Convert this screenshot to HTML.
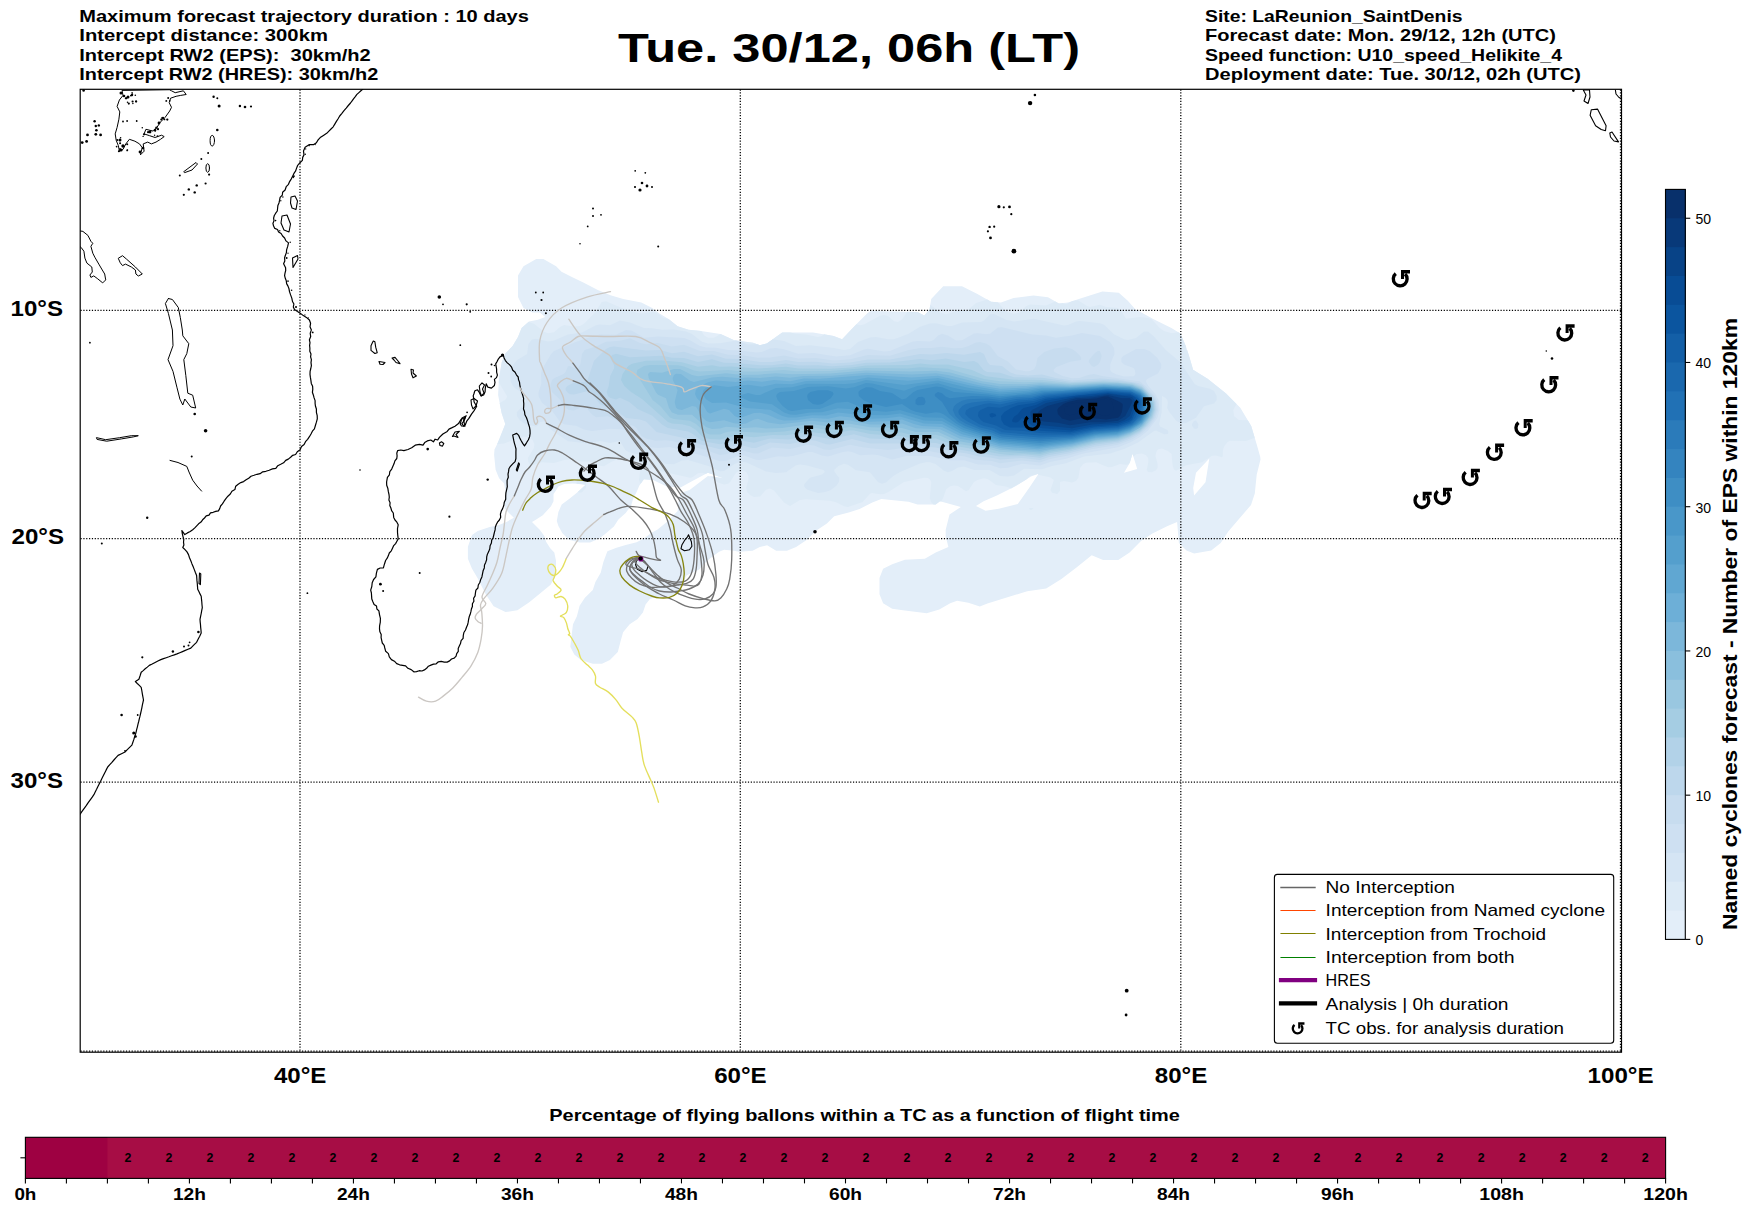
<!DOCTYPE html><html><head><meta charset="utf-8"><style>html,body{margin:0;padding:0;background:#fff;overflow:hidden;}svg{display:block;}text{font-family:"Liberation Sans",sans-serif;}</style></head><body>
<svg width="1752" height="1213" viewBox="0 0 1752 1213">
<rect x="0" y="0" width="1752" height="1213" fill="#fff"/>
<defs><g id="tcs"><path d="M4.88 -4.88A6.9 6.9 0 1 1 -4.44 -5.28" fill="none" stroke="#000" stroke-width="3.35"/><path d="M0.8 -8.9H9.8V-5.4H3.8V0H0.8Z" fill="#000"/></g><clipPath id="mapclip"><rect x="80.2" y="89.3" width="1541.2" height="962.9"/></clipPath></defs>
<path d="M518.0 297.1 L518.0 275.4 L523.5 266.3 L536.2 259.1 L543.4 259.1 L556.1 266.3 L561.5 271.8 L572.4 277.2 L583.3 282.6 L597.8 289.9 L610.5 295.3 L623.2 299.0 L641.3 302.6 L652.2 308.0 L659.5 313.5 L668.5 318.9 L677.6 326.2 L688.5 329.8 L701.0 331.0 L720.5 334.0 L734.2 340.2 L753.1 342.8 L759.9 345.3 L766.8 343.6 L782.2 332.5 L813.0 332.5 L833.6 335.9 L842.1 339.3 L854.1 326.5 L867.8 312.8 L871.2 311.1 L917.5 312.0 L924.3 315.4 L929.5 309.4 L931.2 299.1 L943.2 286.3 L962.0 286.3 L977.4 294.0 L991.1 301.7 L1000.9 302.6 L1013.6 298.1 L1033.5 295.4 L1048.0 297.2 L1058.9 303.6 L1068.0 302.6 L1084.3 297.2 L1102.4 291.4 L1118.8 292.7 L1127.8 300.8 L1135.1 309.0 L1153.2 319.0 L1171.4 328.0 L1180.4 333.5 L1185.9 346.2 L1189.5 357.0 L1193.1 369.7 L1207.6 378.8 L1225.8 393.3 L1240.3 407.8 L1251.2 426.0 L1256.6 444.1 L1260.2 456.8 L1260.5 459.5 L1256.7 474.7 L1254.8 493.6 L1251.0 505.0 L1239.6 518.3 L1228.3 531.5 L1220.7 542.9 L1211.2 550.5 L1194.1 553.4 L1186.5 550.5 L1178.9 542.9 L1177.1 522.1 L1167.6 525.9 L1152.4 533.4 L1141.0 541.0 L1129.6 552.4 L1118.3 560.0 L1103.1 560.0 L1091.7 555.3 L1076.5 567.6 L1061.4 579.0 L1046.2 588.4 L1027.2 591.3 L1008.3 597.0 L987.4 603.6 L979.8 606.5 L968.4 602.7 L957.1 600.8 L950.2 603.2 L939.3 609.6 L926.7 613.2 L904.9 610.5 L892.2 608.7 L883.1 603.2 L879.5 594.2 L879.5 577.9 L883.1 568.8 L892.2 564.3 L904.9 559.7 L924.8 558.8 L935.7 552.5 L948.4 547.0 L945.7 536.2 L945.7 529.7 L949.5 514.5 L960.9 506.9 L940.0 501.2 L935.7 504.4 L917.6 504.4 L908.5 501.7 L881.3 499.0 L872.3 502.6 L859.6 509.0 L848.7 512.6 L834.2 516.2 L826.9 523.5 L816.0 530.7 L807.0 539.8 L796.1 547.0 L787.0 550.7 L776.2 550.7 L767.1 545.2 L759.8 547.0 L752.6 550.7 L738.9 551.7 L734.0 550.7 L724.1 549.7 L719.1 551.7 L711.2 557.6 L704.3 563.5 L699.3 569.5 L692.4 572.4 L686.5 575.4 L683.5 581.3 L679.6 589.2 L673.6 595.2 L664.7 597.2 L654.8 597.2 L649.9 599.1 L645.6 604.4 L642.9 612.4 L637.6 619.0 L629.7 624.2 L623.1 632.2 L620.5 641.4 L617.8 651.9 L609.9 659.9 L602.0 663.8 L592.8 663.8 L580.9 659.9 L574.3 654.6 L570.3 646.7 L571.7 634.8 L573.0 624.2 L576.9 616.3 L579.6 605.8 L584.9 597.8 L592.8 589.9 L595.4 582.0 L600.7 572.8 L603.3 562.2 L607.4 551.3 L616.5 547.7 L625.7 544.9 L636.6 542.2 L643.9 538.5 L651.2 533.1 L657.6 529.4 L666.8 522.1 L677.7 511.1 L678.6 501.1 L680.5 492.9 L689.6 490.1 L707.9 476.0 L723.4 478.3 L707.9 472.8 L694.2 480.1 L680.5 487.4 L666.8 486.5 L653.1 480.1 L643.9 479.2 L639.4 485.6 L636.6 492.0 L633.0 499.3 L631.1 505.7 L625.7 513.0 L618.4 519.4 L613.9 526.6 L606.0 533.2 L599.4 538.5 L590.1 542.4 L579.6 542.4 L569.0 539.8 L562.4 533.2 L558.4 526.1 L556.8 521.1 L558.4 512.0 L561.7 504.6 L569.1 498.9 L576.6 493.1 L585.6 484.8 L580.7 484.0 L572.4 483.6 L564.2 484.0 L558.4 486.5 L556.0 490.6 L553.5 493.9 L553.5 501.3 L551.0 506.3 L542.8 515.3 L536.2 519.5 L532.0 521.9 L539.5 529.4 L544.4 536.0 L546.1 541.7 L550.2 548.3 L554.3 552.4 L556.0 560.7 L555.8 575.4 L550.6 584.7 L539.1 594.3 L529.3 602.2 L517.4 610.2 L505.5 612.1 L493.6 606.2 L485.7 594.3 L477.8 578.5 L471.9 568.6 L467.9 558.7 L467.9 546.8 L472.0 535.0 L477.8 531.0 L489.7 527.1 L498.2 525.2 L506.5 521.9 L513.9 517.8 L509.0 512.9 L504.8 508.7 L505.3 490.6 L504.0 483.2 L499.1 478.2 L495.6 469.7 L494.1 454.8 L494.5 449.5 L499.9 438.6 L505.3 424.1 L501.7 413.2 L498.1 395.1 L499.0 376.9 L501.7 362.4 L505.3 353.4 L512.6 346.1 L518.0 337.0 L521.6 328.0 L528.9 321.6 L538.0 319.8 L545.2 317.1 L539.8 312.6 L532.5 312.6 L523.5 308.0 Z M976.0 505.9 L985.5 510.7 L998.8 508.8 L1017.8 504.0 L1029.1 487.9 L1038.6 473.7 L1031.0 476.6 L1015.9 486.0 L996.9 495.5 L983.6 501.2 Z M1132.5 453.8 L1137.2 469.0 L1124.0 472.8 L1129.6 463.3 Z M1209.3 458.5 L1205.5 482.2 L1194.1 495.5 L1193.2 487.9 L1196.0 472.8 Z" fill="#e3eef9" fill-rule="evenodd"/>
<path d="M987.4 299.6L976.0 303.1L968.0 309.9L956.0 311.2L946.0 314.2L940.0 312.4L930.3 304.8L929.5 309.4L924.3 315.4L917.5 312.0L907.3 311.8L902.0 319.6L898.0 321.9L894.0 321.2L888.0 315.9L884.0 315.1L880.0 315.7L864.0 324.6L860.0 325.3L856.4 324.2L842.1 339.3L833.6 335.9L824.1 334.3L822.0 336.0L818.0 337.0L806.0 334.4L796.0 333.8L790.2 332.5L782.2 332.5L766.8 343.6L759.9 345.3L753.1 342.8L734.2 340.2L720.6 334.1L714.0 337.7L708.0 337.8L704.0 335.3L701.4 331.1L688.5 329.8L677.6 326.2L668.7 319.1L663.5 318.0L656.0 312.6L652.0 311.9L642.0 313.4L638.0 313.1L624.0 309.0L606.0 301.3L601.7 302.0L595.5 312.0L584.0 323.7L580.0 326.0L574.0 326.6L564.0 325.0L560.0 327.0L554.0 332.2L548.0 333.2L544.0 331.7L534.0 323.7L528.5 322.0L521.6 328.0L518.0 337.0L512.6 346.1L505.3 353.4L501.7 362.4L498.7 382.2L507.0 396.0L506.7 398.0L505.1 400.0L499.6 402.9L501.7 413.2L505.3 424.1L497.1 444.2L504.0 443.4L524.0 436.5L530.0 437.7L532.6 440.0L534.4 444.0L533.9 448.0L527.9 458.0L528.3 462.0L530.0 464.4L532.0 465.2L542.0 462.3L554.0 463.0L564.3 460.0L572.0 459.1L580.0 461.4L590.0 461.4L600.0 465.7L604.0 466.3L612.0 461.4L616.0 460.0L626.0 459.6L632.0 460.6L638.0 464.0L640.6 468.0L639.0 480.0L640.6 483.9L643.9 479.2L651.8 480.0L649.5 470.0L652.0 468.1L662.0 471.5L690.0 477.8L692.0 477.6L698.0 473.2L702.0 472.8L706.0 473.8L707.9 472.8L723.4 478.3L710.0 476.3L718.0 482.4L724.0 484.5L728.0 483.7L730.0 482.2L736.0 472.7L740.0 470.2L742.0 470.1L746.2 472.0L748.4 476.0L748.4 480.0L746.1 488.0L747.2 492.0L750.0 495.1L754.0 497.1L760.0 496.4L766.0 489.8L770.0 488.4L774.0 490.4L784.0 502.6L790.0 505.9L800.0 500.0L806.0 499.2L830.0 500.8L836.0 502.3L844.0 506.2L848.0 507.0L862.6 502.0L870.0 493.7L872.0 492.9L880.0 494.2L884.0 494.0L888.0 492.3L904.0 482.1L924.0 477.7L928.0 478.1L930.0 479.5L931.3 482.0L929.8 498.0L931.0 502.0L933.6 504.4L935.7 504.4L940.0 501.2L941.1 501.5L943.2 498.0L946.0 489.6L950.0 486.2L954.0 485.4L958.0 486.0L966.0 491.3L968.7 490.0L974.0 482.0L978.0 479.7L984.0 478.3L988.0 479.3L996.0 485.0L1006.0 486.5L1011.1 488.4L1026.3 479.5L1030.0 475.9L1038.6 473.7L1037.9 474.8L1050.0 477.3L1053.9 480.0L1050.5 490.0L1052.0 492.7L1057.2 494.0L1060.0 490.7L1060.0 482.0L1064.0 481.1L1072.0 482.4L1076.0 481.1L1078.3 478.0L1080.1 468.0L1083.3 464.0L1086.0 462.7L1096.0 462.3L1108.0 467.3L1112.0 466.9L1120.0 463.9L1126.0 464.8L1128.0 464.4L1129.8 462.7L1132.5 453.8L1133.4 456.6L1136.6 454.0L1142.0 453.5L1146.0 455.3L1148.2 458.0L1148.4 462.0L1146.7 470.0L1148.0 472.1L1152.0 472.2L1156.0 470.2L1157.6 468.0L1157.6 464.0L1155.5 456.0L1156.3 452.0L1158.0 449.2L1162.0 448.5L1168.0 451.0L1171.5 454.0L1172.7 466.0L1174.0 469.4L1176.0 470.7L1186.0 465.2L1202.0 462.3L1212.0 455.8L1216.0 455.4L1222.0 457.2L1222.8 456.0L1222.9 450.0L1224.4 446.0L1227.6 442.0L1230.0 440.8L1246.0 440.9L1254.7 437.8L1251.2 426.0L1247.8 420.3L1238.7 420.0L1234.0 416.0L1233.3 410.0L1236.5 404.0L1225.8 393.3L1207.6 378.8L1193.1 369.7L1187.2 350.2L1186.0 349.9L1185.9 346.2L1180.4 333.5L1178.2 332.2L1172.0 333.3L1164.0 331.1L1160.0 328.3L1152.3 320.0L1148.0 318.0L1140.0 316.9L1126.0 318.8L1120.6 310.0L1117.8 308.0L1106.0 306.9L1100.0 304.7L1090.0 307.0L1087.0 306.0L1078.0 300.2L1072.6 301.1L1066.0 304.2L1062.4 303.2L1058.9 303.6L1055.2 301.4L1046.0 305.4L1030.0 304.5L1026.0 306.3L1020.0 312.2L1014.0 313.7L1008.0 312.2L1004.4 310.0L997.8 302.3L991.1 301.7ZM577.7 472.0L576.5 483.8L585.6 484.8L577.8 492.0L580.0 492.8L582.0 492.2L585.9 488.0L586.4 484.0L584.0 475.9L580.0 470.9ZM1033.6 508.0L1029.1 508.0L1030.0 509.9L1032.0 509.8Z" fill="#dceaf6" fill-rule="evenodd"/>
<path d="M990.0 314.3L984.0 320.5L981.0 322.0L962.0 322.6L952.0 326.1L947.3 326.0L936.0 323.3L930.0 323.4L920.0 326.7L908.2 334.0L894.0 339.3L888.0 339.3L876.0 336.9L870.0 337.5L858.0 342.1L850.0 348.9L844.0 350.1L834.0 348.0L810.0 345.3L796.0 346.0L784.0 340.9L774.0 339.4L772.6 339.4L766.8 343.6L759.9 345.3L757.2 344.3L748.0 344.5L736.0 340.5L720.0 343.3L708.0 343.6L702.0 341.8L692.0 334.1L686.0 331.5L674.0 329.4L662.0 329.8L652.0 328.3L644.0 328.1L630.0 322.6L620.0 320.6L610.0 325.2L600.0 324.5L596.0 325.3L582.0 332.5L568.0 334.5L554.0 340.6L548.0 341.4L536.0 338.7L532.0 339.6L528.4 344.0L527.1 354.0L517.1 360.0L512.3 366.0L510.3 372.0L510.2 378.0L510.9 382.0L513.0 386.0L516.0 388.9L524.0 393.6L526.3 398.0L525.9 402.0L524.7 404.0L516.9 412.0L517.0 416.0L520.0 420.6L526.0 424.4L536.0 426.6L538.0 425.3L540.0 421.9L544.0 421.5L551.3 430.0L568.0 441.3L588.0 443.4L600.0 441.1L610.0 442.9L620.0 441.1L625.3 450.0L628.4 452.0L636.0 454.0L652.0 455.8L666.0 464.0L674.0 464.2L682.0 460.5L688.0 460.0L710.0 466.4L720.0 471.3L724.0 471.0L734.7 464.0L740.0 461.7L746.0 462.3L766.0 471.5L776.0 473.1L786.0 472.3L796.0 465.3L800.0 464.6L806.0 465.3L823.6 470.0L825.0 472.0L822.0 474.5L810.0 477.8L804.4 484.0L804.1 486.0L805.2 488.0L808.1 490.0L818.0 493.0L824.0 492.3L830.0 490.5L836.2 486.0L838.9 482.0L839.3 478.0L834.6 472.0L834.1 470.0L838.4 466.0L844.0 463.8L848.0 464.8L856.0 470.2L870.0 472.2L877.9 482.0L882.0 483.8L886.0 482.4L893.2 476.0L900.0 471.9L920.0 463.4L926.0 462.3L930.0 462.2L935.6 464.0L944.0 470.7L948.0 472.2L952.0 471.1L958.0 467.4L964.0 466.4L974.0 470.0L989.6 470.0L1000.0 476.0L1008.0 476.6L1014.0 475.5L1024.0 468.8L1042.0 469.2L1052.0 466.0L1066.0 463.2L1084.0 456.5L1110.0 453.5L1124.0 448.9L1138.0 442.6L1154.0 431.0L1156.0 430.5L1164.0 434.3L1167.8 434.0L1168.5 432.0L1167.5 430.0L1160.0 426.5L1159.1 424.0L1161.7 412.0L1162.0 396.1L1165.8 398.0L1167.3 400.0L1167.9 402.0L1167.2 408.0L1169.3 412.0L1176.0 420.4L1178.0 422.1L1182.0 423.3L1186.0 422.9L1196.0 417.8L1204.0 406.2L1214.0 403.5L1216.7 400.0L1216.7 396.0L1214.0 391.1L1210.0 388.7L1198.0 385.9L1194.6 384.0L1180.1 362.0L1165.8 350.0L1154.0 336.4L1148.0 331.6L1144.0 331.6L1136.0 338.0L1128.0 340.0L1124.0 339.2L1114.0 334.3L1104.0 324.7L1100.0 323.3L1080.0 320.9L1076.0 321.6L1068.0 325.1L1064.0 325.5L1034.0 318.7L1014.0 321.5L1006.0 319.8L994.0 314.1ZM1192.0 424.0L1192.2 426.0L1194.0 428.5L1196.0 429.1L1198.0 428.0L1198.3 424.0L1196.0 420.5L1194.0 420.9Z" fill="#d5e5f4" fill-rule="evenodd"/>
<path d="M998.0 327.6L990.0 333.7L986.0 334.3L978.0 333.2L974.0 333.6L962.0 340.2L956.0 340.4L948.0 335.4L942.0 333.7L938.0 335.4L933.6 340.0L930.0 341.6L918.0 340.9L912.0 341.8L890.0 351.1L884.0 351.4L868.0 348.8L864.0 349.6L850.0 355.3L836.0 356.4L814.0 353.0L798.0 353.8L784.0 349.2L776.0 347.9L770.0 348.6L761.9 352.0L756.0 352.6L740.0 350.4L728.0 349.9L716.0 347.8L706.0 347.4L700.0 345.9L690.0 340.3L684.0 338.0L658.0 336.5L644.0 337.8L632.0 330.8L626.0 329.9L616.0 334.8L600.0 334.6L594.0 335.8L575.7 342.0L554.0 350.9L551.1 354.0L541.7 370.0L541.0 374.0L541.3 384.0L538.6 392.0L538.5 396.0L542.0 402.8L552.0 410.7L560.0 421.8L564.0 424.3L576.0 425.7L584.0 429.5L592.0 430.9L610.0 428.8L624.0 429.5L628.8 432.0L634.0 443.3L638.0 446.2L658.0 448.0L670.0 447.0L702.0 455.5L720.0 461.3L726.0 460.8L740.0 455.2L744.0 455.6L756.0 459.8L760.0 460.1L778.0 456.3L786.0 456.7L794.0 455.8L808.0 451.9L812.3 452.0L822.0 455.5L828.0 456.5L842.0 452.2L848.0 451.3L852.0 451.9L860.0 455.3L872.0 454.5L878.0 455.1L892.0 459.6L906.0 456.0L930.0 455.9L950.0 460.3L964.0 460.2L978.0 464.4L990.0 464.7L1000.0 468.3L1008.0 467.7L1022.0 463.7L1040.0 465.6L1050.1 462.0L1066.0 458.8L1082.0 453.7L1118.0 447.2L1130.0 442.6L1140.0 437.0L1148.0 430.6L1157.4 418.0L1159.5 410.0L1158.5 400.0L1155.4 394.0L1148.4 386.0L1146.0 381.7L1146.2 380.0L1148.0 378.5L1158.0 373.5L1161.1 368.0L1161.2 364.0L1157.4 358.0L1150.0 351.3L1144.0 349.1L1136.0 349.1L1123.2 356.0L1121.4 358.0L1121.4 362.0L1124.0 364.5L1133.5 368.0L1134.8 370.0L1135.5 374.0L1134.0 376.2L1124.0 376.5L1115.4 374.0L1111.6 372.0L1110.2 370.0L1110.3 364.0L1114.5 354.0L1114.1 348.0L1110.0 342.0L1100.0 336.1L1082.0 332.9L1072.0 335.6L1056.0 337.7L1046.0 335.6L1032.0 334.4L1002.0 327.2Z" fill="#cee0f2" fill-rule="evenodd"/>
<path d="M1093.9 354.0L1089.0 360.0L1088.7 362.0L1091.7 366.0L1094.0 367.0L1098.0 364.7L1100.0 362.0L1101.7 356.0L1100.0 351.0L1098.0 350.8ZM620.0 340.7L606.0 341.8L596.0 346.5L584.7 350.0L582.0 354.0L580.5 364.0L578.0 368.0L576.0 368.6L570.0 366.0L568.0 366.3L565.5 372.0L563.6 374.0L554.6 378.0L552.0 380.1L550.2 386.0L552.0 392.3L560.0 399.5L566.0 408.0L568.9 410.0L574.0 410.4L582.0 406.9L584.0 406.8L586.5 408.0L592.0 414.5L596.0 417.2L608.0 416.2L622.0 422.8L634.0 425.9L636.5 428.0L641.4 436.0L646.0 438.6L656.0 440.7L666.0 440.2L672.0 441.0L705.9 450.0L720.0 454.9L726.0 454.2L736.0 450.3L740.0 449.8L754.0 453.5L758.0 453.5L772.0 447.6L790.0 449.0L808.0 444.8L814.0 445.4L824.0 449.5L830.0 450.1L850.0 444.7L864.0 447.6L888.0 449.9L902.0 448.3L914.0 450.3L930.0 451.3L952.0 455.3L964.0 456.2L976.0 459.7L992.0 461.1L1000.0 463.2L1022.0 460.5L1040.0 462.5L1050.0 459.1L1068.0 455.6L1090.0 449.6L1118.0 444.8L1132.0 439.4L1142.0 433.3L1149.8 426.0L1155.4 418.0L1158.0 410.3L1157.3 402.0L1154.5 396.0L1146.0 386.6L1140.0 381.5L1102.2 376.0L1094.0 374.0L1088.0 374.9L1079.5 378.0L1072.0 378.3L1062.7 376.0L1054.4 372.0L1053.5 370.0L1056.0 367.2L1070.0 361.8L1081.0 360.0L1081.3 358.0L1080.2 356.0L1076.0 351.8L1072.0 349.0L1066.0 347.3L1054.0 348.4L1044.2 352.0L1037.4 358.0L1035.9 366.0L1034.0 369.3L1030.0 371.0L1026.0 371.3L1016.0 369.5L1008.0 361.6L997.7 356.0L990.2 346.0L986.0 343.5L980.0 342.1L976.0 342.5L968.0 346.3L962.0 348.0L954.0 348.3L942.0 346.7L932.0 348.0L920.0 348.0L908.0 350.3L890.0 355.8L868.0 355.1L850.0 359.3L834.0 360.4L816.0 358.0L798.0 358.4L784.0 355.4L770.0 357.4L758.0 357.7L742.0 355.2L728.0 354.7L714.0 351.1L700.0 350.9L684.0 344.7L672.0 346.4L658.0 343.1L646.0 344.3L640.0 342.9L630.0 338.3Z" fill="#c7dcef" fill-rule="evenodd"/>
<path d="M606.0 348.9L594.0 360.7L587.6 380.0L584.0 381.9L574.0 382.6L567.3 386.0L565.7 388.0L565.6 390.0L568.0 393.1L570.0 394.3L574.0 394.6L588.0 391.1L592.0 393.5L600.0 404.2L616.0 410.4L626.0 417.9L640.0 419.5L646.0 421.4L656.5 432.0L686.0 438.6L700.0 444.3L720.0 449.3L738.0 444.9L742.0 445.2L752.0 448.0L756.0 448.0L770.0 442.5L790.0 444.0L810.0 439.9L816.0 440.8L826.0 444.2L830.0 444.5L852.0 439.1L870.0 443.4L900.0 443.4L914.0 446.0L936.0 447.5L954.0 451.8L966.0 453.2L978.0 456.3L992.0 457.7L1000.0 459.6L1022.0 458.1L1040.0 460.0L1050.0 456.7L1068.0 453.5L1094.0 446.7L1118.0 443.0L1130.0 438.6L1140.0 433.1L1147.9 426.0L1154.0 418.0L1156.6 410.0L1155.8 402.0L1153.0 396.0L1142.0 384.7L1138.0 382.9L1118.0 379.7L1100.0 378.6L1072.0 380.4L1055.6 378.0L1042.0 374.5L1028.0 375.4L1016.0 374.4L1010.0 372.2L1002.0 366.0L990.0 364.9L987.4 362.0L984.0 354.1L980.0 352.1L964.0 354.7L946.0 353.0L932.0 354.4L920.0 354.1L890.0 359.4L868.0 359.4L850.0 362.5L832.0 363.5L816.0 361.8L798.0 362.1L786.0 360.0L772.0 362.0L760.0 361.9L740.0 359.1L726.0 358.8L712.0 354.6L698.0 356.3L684.0 351.7L672.0 353.2L660.0 350.1L646.0 350.6L614.0 346.5L610.0 346.9Z" fill="#bdd7ec" fill-rule="evenodd"/>
<path d="M612.0 354.9L610.3 358.0L614.0 365.1L614.2 368.0L610.2 376.0L608.7 386.0L606.6 392.0L608.0 396.0L610.0 397.7L616.0 399.4L620.0 397.8L629.4 402.0L638.0 409.3L652.0 415.5L662.0 424.5L667.9 428.0L688.0 431.6L692.0 433.6L702.0 441.0L720.0 444.3L738.0 440.0L754.0 442.8L770.0 438.4L788.0 439.6L808.0 435.9L814.0 436.0L830.0 439.1L854.0 434.2L870.0 438.6L900.0 439.5L914.0 442.2L936.0 442.9L956.0 448.9L1000.0 456.6L1024.0 456.1L1040.0 457.8L1048.0 455.2L1068.0 451.8L1096.0 444.6L1118.0 441.5L1130.0 437.1L1140.0 431.7L1146.4 426.0L1152.7 418.0L1155.4 410.0L1154.7 402.0L1151.7 396.0L1142.0 386.2L1134.0 383.1L1118.0 380.9L1104.0 380.3L1072.0 381.9L1042.0 377.8L1014.0 377.2L1000.0 372.8L987.0 372.0L983.5 370.0L978.0 363.0L974.0 361.1L964.0 362.0L946.0 358.5L932.0 360.2L920.0 359.1L890.0 362.5L866.0 362.8L852.0 365.0L832.0 366.2L818.0 365.2L798.0 365.4L786.0 363.5L772.0 365.2L760.0 365.3L736.0 363.0L724.0 362.8L712.0 359.2L698.0 361.9L684.0 358.1L672.0 357.8L662.0 355.7L630.0 357.3L616.0 353.8Z" fill="#b2d2e8" fill-rule="evenodd"/>
<path d="M646.0 360.8L632.0 363.8L628.2 366.0L622.6 374.0L621.0 380.0L624.3 386.0L631.1 392.0L642.0 399.0L668.0 422.0L672.0 423.5L682.0 424.2L690.0 426.3L696.0 429.9L702.0 436.3L706.0 438.3L710.0 439.1L720.0 439.6L736.0 435.4L754.0 437.2L772.0 434.9L786.0 435.3L808.0 431.7L830.0 434.3L850.0 430.4L854.0 430.4L870.0 434.0L902.0 436.2L914.0 438.8L936.0 438.5L956.0 446.0L1000.0 454.1L1010.0 454.9L1024.0 454.3L1040.0 455.8L1050.0 453.1L1070.0 449.8L1096.0 443.1L1118.0 440.2L1130.0 435.9L1140.0 430.5L1145.1 426.0L1152.0 417.2L1154.4 410.0L1153.7 402.0L1148.9 394.0L1142.0 387.3L1132.0 383.5L1104.0 381.5L1070.0 383.0L1042.0 380.0L1012.0 379.6L986.0 376.3L972.0 370.0L948.0 364.4L930.0 364.5L920.0 363.4L908.0 364.9L866.0 365.6L852.0 367.4L830.0 368.7L798.0 368.4L786.0 366.8L758.0 368.5L732.0 366.6L720.0 366.7L712.0 365.2L698.0 366.7L682.0 362.3L662.0 360.4Z" fill="#a5cde3" fill-rule="evenodd"/>
<path d="M644.0 366.0L637.3 370.0L636.5 374.0L652.6 400.0L660.2 406.0L670.0 417.4L674.0 418.9L690.0 420.7L696.0 424.1L706.0 433.3L710.0 434.6L720.0 434.5L726.0 432.2L732.0 431.3L762.0 432.7L784.0 431.4L808.0 427.7L814.0 427.8L828.0 430.1L850.0 426.9L870.0 430.4L902.0 432.5L914.0 435.4L936.0 434.8L940.8 436.0L958.0 443.7L988.0 448.8L1000.0 451.8L1040.0 454.1L1050.0 451.5L1070.0 448.4L1096.0 441.8L1118.0 439.0L1130.0 434.8L1140.0 429.4L1143.8 426.0L1151.6 416.0L1153.4 410.0L1153.2 404.0L1150.9 398.0L1142.0 388.3L1132.0 384.4L1118.0 382.8L1100.0 382.5L1070.0 384.1L1040.0 381.7L1024.0 382.3L1000.0 381.2L984.0 379.0L948.0 368.7L920.0 367.3L908.0 368.4L866.0 368.1L830.0 371.1L796.0 371.2L784.0 369.9L758.0 371.6L742.0 371.4L728.0 370.0L700.0 371.4L694.0 370.6L684.0 366.5L678.0 365.3L650.0 365.1Z" fill="#99c7e0" fill-rule="evenodd"/>
<path d="M674.0 368.9L662.0 372.8L650.0 372.0L648.0 374.0L648.7 378.0L656.0 392.6L658.0 394.7L666.0 398.3L669.0 408.0L672.0 412.4L678.0 414.8L692.0 414.8L706.0 426.9L712.0 429.1L720.0 428.6L726.0 426.8L744.0 427.9L756.0 427.2L766.0 428.5L782.0 427.9L810.0 424.0L828.0 426.2L840.0 423.7L850.0 423.7L870.0 427.3L902.0 428.1L916.0 432.0L938.0 431.8L958.0 440.9L986.0 446.1L1000.0 449.8L1040.0 452.4L1050.0 450.0L1072.0 446.7L1096.0 440.5L1118.0 437.9L1130.0 433.8L1142.8 426.0L1150.5 416.0L1152.4 410.0L1152.2 404.0L1151.0 400.0L1146.9 394.0L1142.0 389.2L1132.0 385.1L1118.0 383.6L1102.0 383.3L1072.0 385.1L1040.0 383.3L1026.0 384.2L1000.0 384.1L982.0 381.2L950.0 372.4L936.0 370.7L910.0 371.6L866.0 370.4L830.0 373.4L792.0 374.2L776.0 373.2L758.0 374.7L740.0 374.7L726.0 373.3L698.0 376.2L692.0 374.9L680.0 369.1Z" fill="#8abfdd" fill-rule="evenodd"/>
<path d="M674.0 375.1L672.7 378.0L672.9 380.0L677.6 390.0L674.7 402.0L676.0 407.5L678.0 409.2L682.0 410.0L692.0 406.0L696.0 406.8L702.9 418.0L706.0 420.7L710.0 422.3L724.0 420.2L734.0 423.3L742.0 424.0L746.0 423.4L754.0 419.6L758.0 418.8L768.0 422.6L780.0 424.3L812.0 420.8L828.0 422.5L842.0 419.7L850.0 420.5L870.0 424.6L890.0 424.5L902.0 423.4L916.0 428.3L940.0 429.3L960.0 438.8L974.0 441.2L1000.0 447.9L1012.0 449.4L1040.0 450.8L1072.0 445.5L1096.0 439.4L1118.0 436.9L1132.0 431.9L1140.0 427.4L1148.2 418.0L1151.4 410.0L1151.3 404.0L1150.1 400.0L1147.6 396.0L1142.0 390.1L1132.0 385.9L1118.0 384.4L1102.0 384.1L1070.0 386.0L1040.0 384.7L1026.0 386.0L1000.0 386.5L982.0 383.6L948.0 374.9L936.0 373.2L912.0 374.6L866.0 372.7L832.0 375.7L804.0 376.0L790.0 377.8L776.0 376.4L760.0 377.9L748.0 377.4L738.0 378.1L722.0 376.7L712.0 377.6L694.0 381.9L690.0 380.8L681.0 374.0L676.0 373.7Z" fill="#7cb7da" fill-rule="evenodd"/>
<path d="M868.0 375.0L820.0 378.8L804.0 378.5L790.0 381.2L774.0 380.0L762.0 381.8L748.0 380.6L736.0 381.9L716.0 380.5L708.0 382.2L700.0 386.0L695.8 390.0L695.0 394.0L696.8 398.0L702.5 404.0L707.2 412.0L710.0 413.5L724.0 408.8L729.0 410.0L734.7 416.0L738.0 417.4L742.0 417.2L754.0 413.0L760.0 412.8L768.0 414.7L778.0 419.3L784.0 420.5L796.0 420.2L812.0 418.0L828.0 418.8L840.0 416.2L850.0 417.3L868.0 421.7L888.0 421.2L902.0 419.6L914.0 424.1L922.0 426.0L942.0 427.0L960.0 436.1L974.0 439.0L1000.0 446.2L1038.0 449.3L1072.0 444.3L1096.0 438.2L1118.0 435.9L1130.0 431.9L1142.0 424.7L1148.4 416.0L1150.4 410.0L1149.9 402.0L1145.1 394.0L1140.0 389.5L1130.0 386.2L1104.0 384.8L1070.0 386.9L1040.0 386.1L1026.0 387.7L1000.0 388.7L980.0 385.4L938.0 375.7L912.0 377.5Z" fill="#6dafd7" fill-rule="evenodd"/>
<path d="M868.0 377.4L854.0 379.9L844.0 380.5L806.0 380.9L792.0 384.2L776.0 383.8L762.0 386.8L748.0 384.8L728.0 387.0L714.0 385.3L705.7 388.0L703.5 390.0L702.3 394.0L706.0 399.3L712.0 403.0L726.0 402.6L746.0 408.1L770.0 409.7L782.3 416.0L788.0 417.5L796.0 417.5L812.0 415.2L826.0 415.4L838.0 412.5L850.0 413.7L868.0 418.8L886.0 418.3L900.0 416.4L924.0 423.4L942.0 424.1L962.0 434.3L988.0 440.7L1000.0 444.5L1038.0 447.7L1072.0 443.2L1096.0 437.2L1118.0 435.0L1130.0 431.0L1142.0 423.6L1147.3 416.0L1149.4 410.0L1149.0 402.0L1144.2 394.0L1140.0 390.3L1130.0 386.9L1104.0 385.5L1070.0 387.7L1040.0 387.4L1028.0 389.1L1000.0 390.7L970.0 385.6L938.0 378.1L908.0 380.7Z" fill="#60a7d2" fill-rule="evenodd"/>
<path d="M866.0 380.0L854.0 383.2L846.0 383.9L806.0 383.8L792.0 387.3L776.0 387.9L760.0 395.0L756.0 395.1L748.0 392.9L737.9 396.0L750.0 401.5L772.0 404.2L784.0 412.4L790.0 414.6L796.0 414.7L810.0 412.5L822.0 412.3L838.0 408.2L850.0 409.1L862.4 414.0L868.0 415.1L886.0 415.2L900.0 413.4L924.0 420.5L942.0 421.1L962.0 431.8L1000.0 442.9L1040.0 446.2L1074.0 441.7L1096.0 436.1L1116.0 434.4L1130.0 430.1L1142.0 422.4L1146.3 416.0L1148.3 410.0L1148.1 402.0L1145.0 396.0L1140.0 391.1L1130.0 387.5L1104.0 386.2L1068.0 388.6L1042.0 388.6L1028.0 390.7L1000.0 392.6L968.0 387.8L938.0 380.6L904.0 384.9Z" fill="#549fcd" fill-rule="evenodd"/>
<path d="M866.0 383.1L854.0 387.3L846.0 388.5L828.0 386.3L808.0 387.0L794.0 391.0L780.0 392.0L777.0 394.0L776.2 396.0L777.6 400.0L782.7 406.0L788.0 409.9L792.0 411.0L806.0 409.0L820.0 409.1L836.0 402.8L848.0 401.7L868.0 410.2L886.0 411.7L900.0 410.0L924.0 417.3L942.0 417.8L962.0 429.4L1000.0 441.3L1040.0 444.7L1074.0 440.6L1096.0 435.1L1116.0 433.4L1130.0 429.2L1139.0 424.0L1142.0 421.2L1146.1 414.0L1147.4 408.0L1146.5 400.0L1142.6 394.0L1140.0 391.9L1130.0 388.2L1102.0 387.0L1066.0 389.6L1042.0 389.9L1028.0 392.3L1000.0 394.4L964.0 389.9L952.0 387.6L938.0 383.3L917.4 386.0L904.0 390.8L872.0 383.4Z" fill="#4997c9" fill-rule="evenodd"/>
<path d="M818.0 390.3L810.4 392.0L807.9 394.0L807.1 396.0L808.0 400.0L812.9 404.0L818.0 404.8L822.1 404.0L831.0 398.0L833.6 394.0L832.7 392.0L828.0 390.2ZM860.3 390.0L858.4 392.0L858.8 396.0L864.0 400.4L870.0 403.0L886.0 407.1L902.0 404.1L911.1 410.0L916.0 411.7L926.0 413.7L936.0 412.3L940.0 412.7L944.0 414.4L956.0 423.6L964.0 427.9L1000.0 439.7L1040.0 443.0L1074.0 439.5L1094.0 434.4L1118.0 432.1L1130.0 428.3L1137.4 424.0L1142.0 419.9L1145.7 412.0L1146.5 406.0L1146.2 402.0L1144.7 398.0L1140.0 392.7L1132.0 389.3L1118.0 387.9L1104.0 387.5L1062.0 390.7L1042.0 391.1L1030.0 393.6L1000.0 396.2L988.0 394.5L954.0 391.9L942.0 387.3L936.0 386.6L917.5 390.0L913.5 392.0L906.0 398.4L902.0 399.6L892.0 393.1L880.0 390.9L872.0 387.6L866.0 387.3Z" fill="#3e8ec4" fill-rule="evenodd"/>
<path d="M915.5 400.0L915.5 404.0L918.0 405.3L924.0 404.9L925.6 402.0L924.5 398.0L922.0 396.8L918.0 397.3ZM1106.0 388.2L1044.0 392.2L1030.0 395.1L1016.0 395.7L1000.0 398.0L988.0 396.4L972.0 395.9L950.0 398.2L946.0 396.7L942.0 393.3L938.0 392.1L934.9 394.0L934.8 396.0L942.1 402.0L949.5 414.0L958.0 422.1L965.2 426.0L975.5 430.0L992.0 434.5L1000.0 438.0L1004.0 438.5L1040.0 441.3L1072.0 438.7L1094.0 433.4L1118.0 431.2L1130.0 427.3L1135.9 424.0L1140.7 420.0L1143.9 414.0L1145.5 404.0L1143.8 398.0L1140.0 393.6L1132.0 390.0Z" fill="#3484bf" fill-rule="evenodd"/>
<path d="M1106.0 388.9L1044.0 393.4L1032.0 396.4L1016.0 397.2L1000.0 399.9L988.0 398.5L968.0 399.3L962.0 400.8L956.3 404.0L954.0 406.3L952.8 410.0L955.4 416.0L959.6 420.0L966.5 424.0L980.0 429.6L992.0 432.5L1002.0 436.5L1040.0 439.5L1072.0 437.5L1094.0 432.3L1118.0 430.2L1132.0 425.5L1139.2 420.0L1142.0 416.1L1143.8 410.0L1144.3 402.0L1142.0 396.5L1139.2 394.0L1130.0 390.3Z" fill="#2b7bba" fill-rule="evenodd"/>
<path d="M1108.0 389.6L1044.0 394.7L1032.0 398.0L1016.0 398.9L1000.0 402.0L988.0 400.7L972.0 402.4L966.0 404.0L962.3 406.0L958.8 410.0L958.4 412.0L958.9 414.0L962.0 418.0L968.5 422.0L980.0 427.4L992.0 430.2L1000.0 434.1L1040.0 437.5L1072.0 436.3L1094.0 431.2L1118.0 429.2L1132.0 424.4L1140.0 417.1L1142.2 412.0L1143.4 404.0L1142.9 400.0L1140.0 395.6L1130.0 391.0Z" fill="#2171b5" fill-rule="evenodd"/>
<path d="M1106.0 390.3L1044.2 396.0L1032.0 399.7L1018.0 400.4L1000.0 404.4L990.0 403.3L984.0 403.9L969.6 408.0L966.0 410.6L965.2 414.0L969.0 418.0L979.0 424.0L984.0 426.1L994.0 428.3L1002.0 432.2L1040.0 435.4L1072.0 435.0L1094.0 430.1L1118.0 428.1L1132.0 423.2L1135.6 420.0L1140.0 413.9L1142.2 406.0L1142.0 400.0L1139.0 396.0L1132.0 392.3Z" fill="#1a68ae" fill-rule="evenodd"/>
<path d="M1108.0 391.1L1046.0 397.2L1034.0 401.1L1018.0 402.4L1000.0 407.7L988.0 406.8L980.5 410.0L978.5 412.0L978.0 416.0L980.8 420.0L983.4 422.0L996.0 425.5L1004.9 430.0L1024.0 430.9L1040.0 433.1L1070.0 433.7L1094.0 428.9L1118.0 427.0L1130.0 423.0L1135.3 418.0L1140.0 408.5L1141.1 404.0L1140.7 400.0L1137.1 396.0L1130.0 392.7Z" fill="#135fa7" fill-rule="evenodd"/>
<path d="M1108.0 391.9L1046.0 398.7L1034.0 403.1L1018.0 405.3L1011.0 408.0L1004.5 412.0L1001.1 416.0L1001.3 420.0L1004.0 424.6L1010.0 427.5L1024.0 427.4L1040.0 430.7L1070.0 432.2L1094.0 427.6L1118.0 425.7L1128.8 422.0L1132.0 420.0L1139.4 404.0L1139.1 400.0L1137.6 398.0L1130.0 393.7ZM990.0 416.7L992.0 417.4L996.2 416.0L995.4 414.0L992.0 413.0L989.5 414.0Z" fill="#0b559f" fill-rule="evenodd"/>
<path d="M1108.0 392.9L1076.0 395.7L1044.0 401.1L1036.0 404.9L1023.7 408.0L1021.0 410.0L1018.0 414.1L1014.0 416.7L1012.0 420.6L1012.6 422.0L1016.0 422.6L1018.0 422.0L1022.0 418.1L1032.0 425.6L1038.0 427.7L1072.0 430.4L1092.0 426.4L1118.0 424.3L1129.1 420.0L1131.3 418.0L1137.3 402.0L1135.5 398.0L1133.0 396.0L1130.0 394.8L1122.0 394.7Z" fill="#084c95" fill-rule="evenodd"/>
<path d="M1108.0 393.8L1092.0 396.0L1076.0 396.9L1046.0 402.9L1032.0 410.0L1030.3 412.0L1030.8 416.0L1034.1 422.0L1040.0 425.1L1072.0 428.3L1092.0 424.6L1118.0 422.7L1124.6 420.0L1129.8 416.0L1134.9 402.0L1134.6 400.0L1132.0 397.0Z" fill="#084387" fill-rule="evenodd"/>
<path d="M1108.0 395.1L1092.0 397.5L1076.0 398.3L1047.2 406.0L1040.3 410.0L1038.4 412.0L1037.4 414.0L1037.8 418.0L1040.0 420.6L1044.0 421.6L1058.0 422.8L1070.0 425.3L1090.0 422.3L1104.0 422.3L1118.0 420.7L1125.3 416.0L1132.4 402.0L1132.1 400.0L1130.0 398.3L1122.0 398.3Z" fill="#083979" fill-rule="evenodd"/>
<path d="M1096.0 398.6L1078.0 399.7L1068.0 402.0L1063.2 404.0L1058.2 408.0L1057.3 410.0L1057.9 414.0L1062.0 418.5L1070.0 420.8L1086.0 417.6L1106.0 419.6L1118.0 417.7L1120.0 416.0L1121.9 412.0L1122.7 406.0L1122.6 404.0L1120.0 402.0L1108.0 396.6L1104.0 396.6Z" fill="#08306b" fill-rule="evenodd"/>
<path d="M1106.0 398.5L1090.0 402.9L1078.0 402.2L1070.0 403.9L1064.3 408.0L1064.2 412.0L1066.0 414.1L1070.0 415.3L1074.0 414.5L1086.0 409.5L1092.0 410.9L1102.0 415.5L1108.0 415.3L1112.0 413.1L1113.3 410.0L1113.2 406.0L1112.0 402.0L1110.3 400.0Z" fill="#08306b" fill-rule="evenodd"/>
<g clip-path="url(#mapclip)" fill="none" stroke="#000" stroke-linejoin="round" stroke-linecap="round">
<path d="M362.9 89.0 L360.9 90.8 L358.9 92.6 L356.9 94.4 L355.3 96.6 L353.7 98.7 L352.1 100.8 L350.5 103.0 L348.3 105.5 L346.2 108.1 L344.0 110.6 L341.9 113.3 L339.7 116.0 L338.1 118.7 L336.4 121.4 L334.8 124.1 L333.2 126.8 L331.0 129.0 L328.9 131.1 L326.7 133.3 L323.4 135.4 L320.2 137.6 L318.1 139.9 L316.4 142.7 L313.8 144.6 L309.4 144.6 L305.1 147.3 L303.5 151.1 L304.0 154.9 L302.7 157.4 L302.4 160.3 L299.2 163.5 L297.5 165.7 L296.5 168.4 L295.5 171.2 L293.8 173.7 L292.5 176.4 L291.2 179.1 L289.6 181.6 L288.5 184.3 L286.2 186.7 L285.1 190.0 L282.6 192.3 L282.3 195.2 L280.1 197.4 L279.6 200.2 L279.0 202.9 L277.9 205.4 L277.6 208.2 L277.3 211.0 L275.7 213.2 L274.3 215.5 L273.6 218.1 L274.0 220.7 L272.9 223.4 L273.6 226.0 L274.8 228.4 L277.5 229.5 L278.6 232.0 L281.1 233.5 L282.6 236.0 L284.6 238.0 L286.0 240.9 L288.5 242.9 L287.7 246.4 L286.6 249.9 L286.4 252.6 L285.4 255.2 L284.6 257.8 L284.8 260.9 L283.6 263.8 L285.6 267.8 L285.7 270.5 L285.0 273.1 L284.6 275.7 L285.3 278.3 L286.3 280.9 L286.6 283.6 L288.0 286.1 L289.0 288.8 L289.5 291.6 L290.6 294.9 L291.8 298.1 L292.5 301.5 L293.9 304.0 L293.3 307.0 L294.5 309.5 L297.5 311.5 L300.5 313.4 L303.3 315.6 L306.4 317.4 L309.4 320.0 L310.6 323.2 L310.0 326.8 L311.4 329.9 L310.2 333.1 L310.7 336.6 L309.4 339.8 L310.0 342.6 L309.6 345.5 L309.9 348.3 L309.8 351.2 L311.0 353.9 L310.6 356.8 L311.4 359.6 L311.0 362.6 L311.4 365.6 L310.8 368.5 L310.1 371.4 L310.0 374.4 L310.4 377.4 L310.9 380.4 L311.3 383.4 L312.6 386.2 L312.8 389.2 L312.4 392.3 L313.4 395.2 L314.1 397.9 L315.1 400.6 L315.1 403.5 L315.5 406.3 L316.4 409.0 L316.4 412.3 L317.2 415.6 L317.3 418.9 L316.4 422.2 L315.4 425.5 L314.4 428.8 L312.4 431.2 L311.0 434.0 L309.4 436.7 L307.6 439.3 L305.5 441.7 L304.1 444.6 L301.5 446.6 L300.1 449.7 L297.3 451.7 L295.6 454.5 L292.7 455.3 L290.6 457.3 L288.3 459.1 L285.7 460.4 L283.6 462.8 L280.7 464.3 L277.8 465.7 L275.8 468.3 L272.4 468.9 L269.2 470.2 L265.9 471.3 L262.7 471.8 L260.1 473.7 L257.0 474.3 L254.0 475.3 L251.0 476.2 L248.7 478.2 L246.1 479.8 L243.6 481.6 L240.8 482.6 L238.2 484.2 L235.7 486.2 L234.9 489.6 L231.9 491.3 L230.3 494.0 L227.9 496.2 L225.9 498.6 L224.1 501.2 L222.4 503.9 L220.6 506.0 L219.7 508.6 L218.4 510.9 L215.7 511.4 L213.2 512.3 L210.5 512.8 L209.0 515.1 L206.2 515.9 L204.5 518.0 L202.6 519.8 L201.0 522.1 L198.6 523.8 L196.7 525.8 L194.8 527.9 L192.7 529.7 L190.2 531.5 L187.4 532.9 L184.8 534.6 L181.9 530.6 L182.3 533.6 L183.0 536.6 L183.8 539.5 L183.5 542.2 L183.9 544.9 L182.8 547.5 L185.0 549.6 L187.0 551.9 L188.5 554.6 L189.5 557.7 L190.8 560.8 L192.0 563.9 L193.2 566.8 L194.3 569.6 L195.4 572.5 L196.6 575.4 L196.8 578.2 L197.0 580.9 L197.3 583.7 L197.5 586.4 L197.7 589.2 L198.9 591.5 L200.0 593.9 L201.2 596.2 L201.5 599.1 L201.8 602.0 L202.0 604.8 L202.3 607.7 L201.7 610.6 L201.2 613.5 L200.6 616.4 L200.0 619.3 L200.2 622.1 L200.5 624.8 L200.7 627.6 L201.0 630.3 L201.2 633.1 L199.7 636.2 L198.1 639.2 L196.6 642.3 L194.7 644.2 L192.7 646.2 L190.8 648.1 L188.0 649.3 L185.3 650.4 L182.5 651.6 L179.8 652.7 L177.0 653.9 L174.3 654.9 L171.6 655.8 L168.9 656.8 L166.2 657.7 L163.5 658.6 L160.8 659.6 L157.9 661.0 L155.1 662.5 L152.2 664.0 L149.3 665.4 L147.3 667.1 L145.2 668.8 L143.2 670.6 L141.2 672.3 L140.1 675.8 L138.9 679.3 L135.4 681.6 L137.3 683.5 L139.3 685.4 L141.2 687.3 L141.8 690.5 L142.3 693.6 L142.9 696.8 L143.5 700.0 L142.9 702.7 L142.3 705.4 L141.8 708.1 L141.2 710.8 L140.6 713.5 L140.0 716.2 L139.3 718.8 L138.7 721.5 L138.0 724.1 L137.4 726.8 L136.7 729.4 L136.1 732.1 L135.4 734.7 L134.5 737.3 L133.7 739.9 L132.8 742.5 L131.9 745.1 L129.6 747.4 L127.3 749.7 L125.0 752.0 L121.5 753.7 L118.1 755.4 L116.0 757.7 L113.9 760.0 L111.9 762.4 L109.8 764.7 L107.7 767.0 L106.2 769.9 L104.8 772.8 L103.4 775.6 L101.9 778.5 L100.6 781.2 L99.2 783.9 L97.9 786.6 L96.6 789.3 L95.2 792.0 L93.9 794.7 L92.4 796.9 L90.8 799.1 L89.3 801.2 L87.7 803.4 L86.2 805.6 L84.6 807.8 L83.1 809.9 L81.5 812.1 L80.0 814.3" stroke-width="1.2"/>
<path d="M503.3 355.1 L504.1 358.0 L505.4 360.6 L507.3 362.9 L509.7 364.9 L511.6 367.2 L512.8 370.2 L515.1 372.3 L516.4 374.8 L518.2 377.0 L518.5 379.6 L519.5 382.1 L519.8 384.8 L520.4 387.6 L521.2 390.3 L522.0 393.1 L522.9 395.8 L523.6 398.4 L523.5 401.0 L523.8 403.6 L523.7 406.3 L523.5 409.0 L524.5 411.5 L524.9 414.8 L526.5 417.8 L527.6 420.9 L528.5 424.0 L529.5 427.1 L530.0 430.3 L530.1 433.5 L529.6 436.7 L528.4 439.7 L526.5 442.8 L524.5 445.9 L522.7 443.4 L521.2 440.8 L519.8 438.1 L518.7 435.4 L516.7 433.4 L512.7 435.0 L513.2 437.6 L513.7 440.2 L514.3 442.8 L515.2 445.9 L516.0 449.0 L515.9 452.2 L515.9 455.4 L515.9 458.5 L515.1 461.6 L512.7 463.9 L510.4 466.3 L508.9 468.7 L508.6 471.4 L508.0 474.1 L508.3 477.3 L507.1 480.4 L507.1 483.5 L507.3 486.7 L506.6 489.8 L505.9 492.9 L505.7 496.0 L505.7 499.2 L504.3 502.2 L503.8 505.5 L502.6 508.6 L501.2 511.3 L500.4 514.1 L500.7 517.3 L499.4 520.0 L497.5 522.2 L496.2 524.8 L495.3 527.3 L495.1 529.9 L494.4 532.4 L493.8 535.0 L493.2 537.5 L491.7 540.1 L491.4 543.1 L490.1 545.8 L489.8 548.8 L488.7 551.6 L487.4 554.2 L486.7 556.9 L486.6 559.8 L485.7 562.4 L484.5 565.0 L484.3 567.9 L483.1 570.8 L482.5 573.9 L481.9 576.9 L480.6 579.8 L479.8 582.5 L478.3 585.0 L477.9 588.0 L475.9 590.2 L475.4 593.1 L475.1 595.9 L473.6 598.3 L473.9 601.2 L472.4 603.7 L472.4 606.5 L471.4 609.0 L470.9 611.7 L470.2 614.3 L469.2 616.8 L468.6 619.5 L468.2 622.2 L467.6 624.8 L466.5 627.3 L465.5 630.0 L463.9 632.5 L463.3 635.4 L463.1 638.4 L461.1 640.7 L460.5 643.6 L459.3 646.0 L458.2 648.5 L458.3 651.3 L456.7 653.6 L456.1 656.2 L454.2 658.2 L451.5 659.0 L449.6 660.9 L447.2 662.1 L444.2 662.1 L441.2 661.4 L438.4 661.8 L436.2 663.8 L433.5 664.1 L430.9 665.1 L428.4 666.2 L426.6 668.3 L424.4 669.9 L422.0 671.0 L419.2 670.7 L416.5 671.6 L413.8 671.8 L411.2 669.6 L407.9 668.3 L405.6 665.8 L402.6 665.3 L399.6 664.8 L396.7 663.6 L394.4 661.2 L391.4 659.6 L389.3 656.9 L388.4 653.6 L385.7 651.3 L384.8 648.0 L384.2 645.3 L382.3 643.0 L381.7 640.3 L381.1 637.6 L381.2 634.6 L379.9 631.8 L379.5 628.8 L379.6 625.8 L380.3 622.1 L380.4 618.3 L379.5 614.6 L378.9 610.9 L376.9 609.0 L376.5 606.1 L374.1 604.5 L373.0 602.0 L371.8 599.1 L371.6 596.1 L371.4 593.0 L370.7 590.1 L371.8 586.5 L372.2 582.7 L373.6 579.5 L375.9 576.8 L376.4 573.1 L377.4 569.4 L380.2 568.0 L383.4 567.9 L384.4 564.2 L385.6 560.5 L387.2 558.2 L388.4 555.6 L389.3 553.0 L391.3 550.8 L392.5 548.2 L393.7 545.6 L395.6 543.6 L396.9 541.3 L398.2 538.9 L397.8 535.6 L397.5 532.3 L397.5 528.5 L398.2 524.8 L396.9 522.2 L395.0 520.0 L393.7 517.4 L393.3 513.0 L391.6 510.7 L390.9 508.0 L389.8 505.5 L390.1 502.7 L388.9 500.0 L389.3 497.2 L389.0 494.5 L388.3 491.4 L387.8 488.2 L386.7 485.2 L386.6 482.0 L387.4 477.3 L389.4 474.8 L389.8 471.6 L391.7 469.1 L392.9 466.3 L394.1 463.6 L394.9 460.8 L396.8 458.5 L397.1 455.9 L396.8 453.2 L397.6 450.6 L400.8 450.0 L403.9 450.6 L408.0 449.5 L411.7 447.8 L415.2 445.2 L419.5 444.4 L423.0 445.2 L424.7 442.6 L427.3 440.9 L430.8 440.0 L433.4 441.8 L435.1 439.2 L437.7 440.0 L439.4 437.4 L442.9 434.0 L447.2 431.4 L449.0 429.1 L451.6 427.9 L455.0 426.2 L458.5 423.6 L461.1 419.3 L465.4 417.5 L464.1 420.8 L461.9 423.6 L463.7 426.2 L465.4 424.5 L466.7 421.2 L468.9 418.4 L471.5 414.1 L474.1 410.6 L476.7 406.3 L474.1 402.0 L473.8 398.9 L473.2 395.9 L474.1 393.3 L474.9 390.7 L477.5 389.8 L479.3 392.4 L481.0 395.9 L483.6 395.0 L485.1 391.7 L485.3 388.1 L486.2 383.8 L487.9 387.2 L491.4 388.1 L494.4 385.5 L495.0 382.4 L494.4 379.4 L496.5 377.6 L497.4 375.1 L496.6 372.1 L496.6 369.0 L495.7 363.9 L497.1 361.5 L498.3 359.1 L500.0 356.9 Z" stroke-width="1.2"/>
<path d="M122.1 90.8 L123.0 95.4 L119.4 100.0 L117.1 106.4 L119.8 111.9 L118.9 119.2 L117.1 127.4 L115.2 133.9 L116.2 140.3 L118.4 145.8 L119.4 151.2 L123.0 149.4 L125.8 143.9 L129.4 139.3 L134.9 141.2 L139.5 143.9 L142.2 147.6 L140.4 154.9 L144.1 151.2 L143.2 143.9 L147.7 142.1 L151.4 143.9 L156.0 142.1 L160.5 139.3 L164.2 136.6 L161.5 135.2 L155.1 137.5 L149.6 135.7 L144.1 133.9 L145.9 129.3 L153.2 131.1 L156.9 127.4 L160.5 122.0 L165.1 117.4 L169.7 111.0 L171.5 107.3 L169.2 102.7 L170.6 98.2 L176.1 96.3 L180.7 95.4 L186.2 94.5 L183.4 90.8 L175.2 92.7 L171.5 90.8 L169.7 89.9 Z" stroke-width="1.0"/>
<path d="M96.8 437.7 L105.7 439.7 L119.6 437.7 L131.4 435.7 L138.3 435.7 L133.4 436.9 L121.5 438.9 L106.7 441.2 L97.5 439.5 Z" stroke-width="1.0"/>
<path d="M118.6 258.1 L122.5 255.7 L126.5 259.1 L135.4 267.0 L142.3 274.0 L138.3 276.0 L135.9 274.0 L135.4 270.0 L131.4 267.0 L125.5 264.1 L122.5 265.6 L120.5 263.1 Z" stroke-width="1.0"/>
<path d="M184.0 171.5 L190.0 167.0 L196.0 162.5 L197.5 164.0 L192.0 170.0 L185.0 172.5 Z" stroke-width="1.0"/>
<path d="M80.0 230.9 L82.9 231.4 L87.9 235.4 L90.9 241.3 L92.8 243.3 L90.9 246.3 L92.8 253.2 L94.8 257.2 L98.8 264.1 L101.7 269.0 L104.7 274.0 L105.7 279.9 L102.7 282.9 L97.8 278.9 L93.8 275.9 L90.9 277.4 L89.9 275.0 L92.3 272.0 L91.8 267.0 L86.9 263.1 L84.9 258.1 L83.9 251.2 L81.0 247.3 L80.0 246.5" stroke-width="1.0"/>
<path d="M168.4 298.5 L165.4 303.5 L168.4 313.4 L172.4 330.0 L173.0 345.7 L168.0 359.6 L173.0 371.4 L176.9 387.2 L179.9 399.1 L182.8 405.0 L184.8 399.0 L190.8 407.0 L195.7 408.0 L192.7 395.2 L187.8 393.2 L185.8 375.4 L183.8 359.6 L186.8 353.6 L188.8 343.7 L182.8 335.8 L182.3 330.0 L180.3 317.4 L178.3 307.5 L172.4 299.5 L168.4 298.5" stroke-width="1.0"/>
<path d="M170.0 460.4 L178.0 462.5 L186.8 466.4 L189.0 472.0 L192.7 480.2 L197.0 486.0 L201.6 491.1" stroke-width="1.0"/>
<path d="M199.5 573.0 L200.8 574.0 L200.4 584.6 L199.0 583.5 Z" stroke-width="1.1"/>
<path d="M439.4 443.0 L441.5 441.8 L443.8 443.5 L442.5 446.1 L440.0 445.5 Z" stroke-width="1.1"/>
<path d="M452.4 436.5 L455.0 432.0 L459.4 431.4 L456.0 434.5 L458.0 437.4 L454.0 436.0 Z" stroke-width="1.1"/>
<path d="M460.2 424.0 L462.0 418.0 L466.3 415.8 L463.5 420.0 L465.0 426.2 L461.5 426.0 Z" stroke-width="1.1"/>
<path d="M479.3 386.0 L482.0 382.9 L484.5 385.0 L482.5 389.0 L484.0 393.0 L481.5 395.9 L480.0 392.0 Z" stroke-width="1.1"/>
<path d="M471.0 400.0 L474.0 398.5 L477.5 401.0 L476.0 406.0 L473.0 408.9 L471.5 405.0 Z" stroke-width="1.1"/>
<path d="M373.3 341.0 L374.9 341.8 L375.7 347.2 L377.2 352.7 L374.9 353.5 L371.0 350.4 L371.0 345.7 L372.5 342.5 Z" stroke-width="1.1"/>
<path d="M379.0 361.5 L385.0 362.5 L383.0 364.5 L380.0 364.3 Z" stroke-width="1.1"/>
<path d="M392.1 358.0 L395.0 357.4 L398.0 361.0 L400.0 363.7 L396.0 362.5 L394.0 360.0 Z" stroke-width="1.1"/>
<path d="M411.0 369.2 L413.5 370.0 L413.0 373.0 L416.4 376.0 L413.0 377.8 L411.5 374.0 Z" stroke-width="1.1"/>
<path d="M639.6 557.7 L644.3 561.2 L648.3 565.8 L646.6 570.4 L641.9 571.6 L637.3 569.3 L635.6 564.7 L636.2 561.2 Z" stroke-width="1.1"/>
<path d="M688.5 534.8 L691.4 541.8 L691.9 546.2 L689.5 549.7 L684.5 550.7 L681.0 548.7 L682.0 544.7 L685.0 539.8 L687.5 536.8 Z" stroke-width="1.1"/>
<path d="M518.6 462.8 L519.5 464.0 L517.2 471.2 L516.3 470.0 Z" stroke-width="1.1"/>
<path d="M1591.3 109.7 L1597.5 109.1 L1606.1 125.8 L1605.5 130.7 L1601.2 129.5 L1595.6 125.8 L1590.1 115.3 Z" stroke-width="1.1"/>
<path d="M1609.8 133.0 L1612.0 132.0 L1618.5 141.9 L1614.0 141.0 L1610.5 137.0 Z" stroke-width="1.1"/>
<path d="M1583.3 90.0 L1589.5 90.0 L1590.0 97.0 L1588.0 103.5 L1584.0 101.0 L1586.0 95.0 Z" stroke-width="1.1"/>
<path d="M291.0 197.0 L295.0 196.0 L297.5 201.0 L296.0 209.5 L292.0 208.0 L290.5 203.0 Z" stroke-width="1.1"/>
<path d="M282.0 216.0 L287.0 215.0 L290.5 224.0 L289.0 232.0 L284.0 230.0 L281.0 223.0 Z" stroke-width="1.1"/>
<path d="M292.5 258.0 L297.5 255.5 L298.0 259.0 L293.0 267.5 Z" stroke-width="1.1"/>
<path d="M1615.4 90.0 L1616.0 94.0 L1619.0 97.5 L1621.4 98.6" stroke-width="1.1"/>
<ellipse cx="207.7" cy="168" rx="1.8" ry="4.3" stroke-width="1.0"/>
<ellipse cx="212.3" cy="140.7" rx="2.2" ry="5.3" stroke-width="1.0"/>
</g>
<g clip-path="url(#mapclip)" fill="#000">
<circle cx="315.2" cy="144.6" r="0.63"/>
<circle cx="309.1" cy="145.6" r="0.80"/>
<circle cx="305.7" cy="148.9" r="0.64"/>
<circle cx="305.3" cy="154.2" r="0.69"/>
<circle cx="293.9" cy="176.2" r="0.94"/>
<circle cx="293.3" cy="177.5" r="0.72"/>
<circle cx="282.9" cy="196.9" r="0.75"/>
<circle cx="280.8" cy="200.7" r="0.68"/>
<circle cx="275.6" cy="220.6" r="0.78"/>
<circle cx="279.8" cy="230.8" r="0.70"/>
<circle cx="290.2" cy="242.3" r="0.72"/>
<circle cx="288.0" cy="253.2" r="0.66"/>
<circle cx="286.7" cy="258.0" r="0.91"/>
<circle cx="288.0" cy="281.2" r="0.83"/>
<circle cx="291.6" cy="290.3" r="0.79"/>
<circle cx="296.0" cy="307.1" r="1.00"/>
<circle cx="304.9" cy="314.9" r="0.61"/>
<circle cx="308.3" cy="317.8" r="0.62"/>
<circle cx="312.7" cy="332.4" r="0.95"/>
<circle cx="142.3" cy="657.3" r="1.1"/>
<circle cx="172.9" cy="651.5" r="1.2"/>
<circle cx="184" cy="646.5" r="1.0"/>
<circle cx="188.5" cy="645.5" r="1.0"/>
<circle cx="189.6" cy="642.3" r="0.9"/>
<circle cx="198.4" cy="632" r="1.3"/>
<circle cx="133.8" cy="733" r="1.6"/>
<circle cx="135.5" cy="736.5" r="1.3"/>
<circle cx="137.7" cy="715" r="0.9"/>
<circle cx="125" cy="750.8" r="0.9"/>
<circle cx="132.6" cy="101.5" r="1.1"/>
<circle cx="136.1" cy="101.5" r="1.16"/>
<circle cx="126.1" cy="98.2" r="1.17"/>
<circle cx="132.9" cy="103.4" r="0.76"/>
<circle cx="130.9" cy="95.6" r="0.97"/>
<circle cx="132.1" cy="92.9" r="0.81"/>
<circle cx="128.8" cy="103.6" r="1.08"/>
<circle cx="127.5" cy="102.2" r="0.77"/>
<circle cx="132.5" cy="94.2" r="0.7"/>
<circle cx="135.3" cy="95.2" r="0.81"/>
<circle cx="127.4" cy="150.0" r="0.84"/>
<circle cx="127.2" cy="144.2" r="1.04"/>
<circle cx="118.9" cy="151.2" r="1.05"/>
<circle cx="127.2" cy="150.4" r="0.85"/>
<circle cx="120.6" cy="137.7" r="0.77"/>
<circle cx="117.3" cy="140.0" r="1.0"/>
<circle cx="116.6" cy="146.6" r="0.87"/>
<circle cx="120.0" cy="149.0" r="0.94"/>
<circle cx="120.1" cy="143.2" r="1.05"/>
<circle cx="143.1" cy="136.4" r="0.71"/>
<circle cx="154.6" cy="135.2" r="0.71"/>
<circle cx="155.2" cy="130.8" r="0.99"/>
<circle cx="142.3" cy="127.8" r="0.79"/>
<circle cx="158.0" cy="129.2" r="1.08"/>
<circle cx="157.5" cy="136.1" r="0.87"/>
<circle cx="148.1" cy="132.2" r="1.09"/>
<circle cx="144.0" cy="134.3" r="1.1"/>
<circle cx="156.4" cy="127.7" r="1.17"/>
<circle cx="161.2" cy="119.6" r="1.01"/>
<circle cx="167.3" cy="119.6" r="1.16"/>
<circle cx="164.5" cy="119.4" r="0.86"/>
<circle cx="161.8" cy="117.9" r="0.77"/>
<circle cx="169.8" cy="100.9" r="0.78"/>
<circle cx="166.3" cy="100.9" r="0.97"/>
<circle cx="168.2" cy="98.1" r="1.0"/>
<circle cx="123" cy="121.5" r="0.9"/>
<circle cx="127.1" cy="121" r="0.9"/>
<circle cx="136.7" cy="121" r="0.9"/>
<circle cx="467.1" cy="412.3" r="0.9"/>
<circle cx="488.5" cy="373" r="1.0"/>
<circle cx="491.2" cy="376.5" r="0.9"/>
<circle cx="491.5" cy="364.5" r="1.0"/>
<circle cx="494.5" cy="365.5" r="0.8"/>
<circle cx="427.7" cy="449.1" r="1.3"/>
<circle cx="502.5" cy="355" r="1.6"/>
<circle cx="1126.7" cy="990.7" r="1.9"/>
<circle cx="1126.1" cy="1015" r="1.4"/>
<circle cx="1030.1" cy="103.1" r="2.2"/>
<circle cx="1034.9" cy="95" r="1.3"/>
<circle cx="998.9" cy="206.7" r="1.6"/>
<circle cx="1003.8" cy="207.3" r="1.1"/>
<circle cx="1009.5" cy="206.9" r="1.4"/>
<circle cx="1011.3" cy="214.2" r="1.1"/>
<circle cx="989.6" cy="226.9" r="1.2"/>
<circle cx="994.2" cy="226.7" r="1.1"/>
<circle cx="987.9" cy="231.3" r="1.1"/>
<circle cx="990.5" cy="237.9" r="1.4"/>
<circle cx="1013.9" cy="251.2" r="2.4"/>
<circle cx="815" cy="531.8" r="1.8"/>
<circle cx="729" cy="464.7" r="1.0"/>
<circle cx="619.3" cy="443" r="0.8"/>
<circle cx="487.7" cy="479.6" r="1.2"/>
<circle cx="460.3" cy="345.2" r="0.9"/>
<circle cx="360" cy="470" r="0.8"/>
<circle cx="449.4" cy="516.7" r="1.1"/>
<circle cx="419.7" cy="573.1" r="1.0"/>
<circle cx="380.4" cy="584.2" r="1.4"/>
<circle cx="383.1" cy="590.9" r="1.0"/>
<circle cx="307.4" cy="593.2" r="0.9"/>
<circle cx="121.6" cy="715" r="1.3"/>
<circle cx="147.2" cy="517.8" r="1.2"/>
<circle cx="101.8" cy="543.5" r="1.0"/>
<circle cx="89.9" cy="342.7" r="0.9"/>
<circle cx="194.7" cy="414" r="1.3"/>
<circle cx="191.7" cy="456.5" r="1.0"/>
<circle cx="205.6" cy="430.8" r="1.8"/>
<circle cx="1546.3" cy="351" r="0.8"/>
<circle cx="1552" cy="358.5" r="1.3"/>
<circle cx="1573.4" cy="90.6" r="1.3"/>
<circle cx="94.6" cy="121.3" r="1.2"/>
<circle cx="95.8" cy="126" r="1.2"/>
<circle cx="98.8" cy="125.4" r="1.2"/>
<circle cx="96.4" cy="130.2" r="1.3"/>
<circle cx="95.8" cy="134.3" r="1.4"/>
<circle cx="100.6" cy="134.9" r="1.4"/>
<circle cx="87.5" cy="134.9" r="1.4"/>
<circle cx="86.6" cy="141.4" r="1.4"/>
<circle cx="82.2" cy="142.6" r="1.4"/>
<circle cx="83.6" cy="90.4" r="1.3"/>
<circle cx="219.1" cy="105.9" r="1.5"/>
<circle cx="213.6" cy="96.8" r="1.2"/>
<circle cx="217.3" cy="98.2" r="1.0"/>
<circle cx="208.1" cy="153.1" r="1.0"/>
<circle cx="201.3" cy="159" r="1.0"/>
<circle cx="179.8" cy="175.5" r="1.0"/>
<circle cx="209.1" cy="174.6" r="1.1"/>
<circle cx="183.8" cy="194.8" r="1.1"/>
<circle cx="188.8" cy="189.4" r="1.2"/>
<circle cx="196.7" cy="185.4" r="1.2"/>
<circle cx="194.7" cy="192.4" r="1.2"/>
<circle cx="205.6" cy="183.5" r="1.1"/>
<circle cx="121" cy="93" r="1.5"/>
<circle cx="124" cy="96" r="1.3"/>
<circle cx="128" cy="97" r="1.5"/>
<circle cx="132" cy="95" r="1.2"/>
<circle cx="120" cy="140" r="1.5"/>
<circle cx="123" cy="146" r="1.7"/>
<circle cx="121" cy="150" r="1.6"/>
<circle cx="140" cy="152" r="1.4"/>
<circle cx="143" cy="148" r="1.3"/>
<circle cx="150" cy="132" r="1.4"/>
<circle cx="155" cy="130" r="1.3"/>
<circle cx="159" cy="123" r="1.4"/>
<circle cx="163" cy="118" r="1.2"/>
<circle cx="535.8" cy="292.5" r="0.9"/>
<circle cx="543.2" cy="292.5" r="0.9"/>
<circle cx="541.5" cy="300" r="1.1"/>
<circle cx="545.9" cy="313.3" r="1.0"/>
<circle cx="439.3" cy="297" r="1.8"/>
<circle cx="443" cy="304.3" r="0.9"/>
<circle cx="466.7" cy="304.3" r="1.1"/>
<circle cx="470.2" cy="311.8" r="0.9"/>
<circle cx="635.2" cy="170.8" r="0.9"/>
<circle cx="645.3" cy="172.8" r="0.9"/>
<circle cx="642" cy="183" r="1.3"/>
<circle cx="647" cy="186" r="1.4"/>
<circle cx="652" cy="187" r="1.0"/>
<circle cx="635" cy="187" r="1.1"/>
<circle cx="640" cy="190" r="1.6"/>
<circle cx="593" cy="208.6" r="1.0"/>
<circle cx="601" cy="214.8" r="0.9"/>
<circle cx="593" cy="216" r="1.0"/>
<circle cx="587.7" cy="226.4" r="0.9"/>
<circle cx="580" cy="243.8" r="0.8"/>
<circle cx="658.2" cy="246.5" r="1.0"/>
<circle cx="217.3" cy="130" r="1.3"/>
<circle cx="239.9" cy="106" r="1.2"/>
<circle cx="245" cy="107" r="1.3"/>
<circle cx="251" cy="106.5" r="1.1"/>
</g>
<line x1="300.0" y1="89.5" x2="300.0" y2="1051" stroke="#000" stroke-width="1.25" stroke-dasharray="1.2 1.64" fill="none"/>
<line x1="740.3" y1="89.5" x2="740.3" y2="1051" stroke="#000" stroke-width="1.25" stroke-dasharray="1.2 1.64" fill="none"/>
<line x1="1180.8" y1="89.5" x2="1180.8" y2="1051" stroke="#000" stroke-width="1.25" stroke-dasharray="1.2 1.64" fill="none"/>
<line x1="1620.5" y1="89.5" x2="1620.5" y2="1051" stroke="#000" stroke-width="1.25" stroke-dasharray="1.2 1.64" fill="none"/>
<line x1="80.5" y1="310.3" x2="1621" y2="310.3" stroke="#000" stroke-width="1.25" stroke-dasharray="1.2 1.64" fill="none"/>
<line x1="80.5" y1="538.6" x2="1621" y2="538.6" stroke="#000" stroke-width="1.25" stroke-dasharray="1.2 1.64" fill="none"/>
<line x1="80.5" y1="782.0" x2="1621" y2="782.0" stroke="#000" stroke-width="1.25" stroke-dasharray="1.2 1.64" fill="none"/>
<line x1="80.5" y1="1051.2" x2="1621" y2="1051.2" stroke="#000" stroke-width="1.25" stroke-dasharray="1.2 1.64" fill="none"/>
<g clip-path="url(#mapclip)" fill="none" stroke-linejoin="round" stroke-linecap="round">
<path d="M568.8 319.2 C570.7 321.9 576.5 331.2 580.4 335.4 C584.2 339.6 587.1 341.3 591.9 344.6 C596.7 347.9 605.4 351.9 609.2 355.0 C613.1 358.1 611.1 360.2 615.0 363.1 C618.9 366.0 627.5 369.4 632.3 372.3 C637.1 375.2 638.0 378.5 643.8 380.4 C649.6 382.3 660.5 382.6 666.9 383.8 C673.2 385.0 679.0 386.0 681.9 387.3 C684.8 388.6 682.9 391.5 684.2 391.9 C685.6 392.3 687.1 390.7 690.0 389.6 C692.9 388.6 698.0 386.1 701.5 385.6 C705.0 385.2 709.6 386.7 711.2 386.9" stroke="#cbc7c3" stroke-width="1.35"/>
<path d="M711.2 386.9 C709.9 388.2 704.9 391.4 703.1 395.0 C701.3 398.6 700.4 403.6 700.2 408.8 C700.0 414.0 700.9 420.2 701.9 426.2 C702.9 432.2 704.8 437.9 706.5 444.6 C708.2 451.3 710.2 457.3 712.3 466.5 C714.3 475.7 716.7 492.8 718.8 500.0 C720.9 507.2 722.8 504.9 724.8 509.9 C726.8 514.9 729.6 521.5 730.7 529.7 C731.9 538.0 731.9 551.2 731.7 559.4 C731.5 567.6 730.5 574.2 729.7 579.1 C728.9 584.0 728.2 585.9 726.7 589.0 C725.2 592.1 722.8 596.0 720.8 598.0 C718.8 600.0 717.7 600.8 714.9 600.9 C712.1 601.0 708.3 600.0 704.0 598.9 C699.7 597.8 693.6 595.8 689.1 594.0 C684.6 592.2 680.9 589.8 677.3 588.0 C673.7 586.2 670.7 585.2 667.4 583.1 C664.1 581.0 660.5 577.8 657.5 575.2 C654.5 572.6 651.9 569.6 649.6 567.3 C647.3 565.0 645.2 562.8 643.6 561.3 C642.0 559.8 640.4 558.9 639.7 558.4" stroke="#737373" stroke-width="1.35"/>
<path d="M670.4 374.6 C670.0 373.5 669.1 370.4 668.1 367.7 C667.1 365.0 666.0 361.8 664.6 358.5 C663.2 355.2 662.5 350.8 660.0 348.1 C657.5 345.4 653.6 344.2 649.6 342.3 C645.6 340.4 642.5 337.5 635.8 336.5 C629.1 335.5 617.5 336.6 609.2 336.5 C600.9 336.4 591.4 336.0 586.2 336.0 C581.0 336.0 580.8 335.4 578.1 336.5 C575.4 337.6 572.6 340.6 570.0 342.3 C567.4 344.0 563.2 344.8 562.5 346.9 C561.8 349.0 564.7 352.8 566.0 355.0 C567.3 357.2 569.1 358.6 570.3 360.0 C571.4 361.4 572.5 362.6 572.9 363.1" stroke="#cbc7c3" stroke-width="1.35"/>
<path d="M572.9 363.1 C574.1 364.7 578.1 370.1 580.2 372.9 C582.3 375.7 582.4 376.9 585.4 380.0 C588.4 383.1 593.7 386.7 598.1 391.5 C602.5 396.3 607.5 403.4 611.9 408.8 C616.3 414.2 620.8 419.6 624.6 423.8 C628.5 428.0 631.1 430.4 635.0 434.2 C638.9 438.0 643.5 442.1 647.7 446.9 C651.9 451.7 656.5 457.7 660.4 463.1 C664.2 468.5 667.3 473.8 670.8 479.2 C674.2 484.6 678.4 491.9 681.1 495.4 C683.8 498.9 684.9 496.6 687.2 500.0 C689.5 503.4 692.6 510.4 695.1 515.8 C697.6 521.2 700.4 527.0 702.0 532.6 C703.6 538.2 704.0 544.2 705.0 549.5 C706.0 554.8 706.4 559.7 707.9 564.3 C709.4 568.9 712.7 573.1 713.9 577.2 C715.1 581.3 715.4 585.0 714.9 589.0 C714.4 593.0 712.9 597.9 710.9 600.9 C708.9 603.9 705.6 605.8 703.0 606.9 C700.4 608.0 698.1 608.0 695.1 607.8 C692.1 607.6 688.8 607.2 685.2 605.9 C681.6 604.6 677.6 602.0 673.3 600.0 C669.0 598.0 663.8 596.1 659.5 594.0 C655.2 591.9 650.9 589.2 647.6 587.1 C644.3 585.0 642.3 583.4 639.7 581.1 C637.1 578.8 633.4 575.5 631.8 573.2 C630.1 570.9 629.5 569.3 629.8 567.3 C630.1 565.3 632.1 562.7 633.7 561.3 C635.4 559.9 638.7 559.3 639.7 558.9" stroke="#737373" stroke-width="1.35"/>
<path d="M590.0 383.0 C591.8 384.8 597.0 389.5 601.0 394.0 C605.0 398.5 609.7 405.0 614.0 410.0 C618.3 415.0 623.0 419.7 627.0 424.0 C631.0 428.3 634.2 431.8 638.0 436.0 C641.8 440.2 646.0 444.3 650.0 449.0 C654.0 453.7 658.2 458.8 662.0 464.0 C665.8 469.2 669.3 475.0 673.0 480.0 C676.7 485.0 680.8 490.7 684.0 494.0 C687.2 497.3 689.6 496.5 692.1 500.0 C694.6 503.5 696.5 509.0 699.0 514.8 C701.5 520.6 704.6 528.0 706.9 534.6 C709.2 541.2 711.4 547.8 712.9 554.4 C714.4 561.0 715.4 568.8 715.9 574.2 C716.4 579.7 716.4 583.8 715.9 587.1 C715.4 590.4 714.7 592.0 712.9 594.0 C711.1 596.0 708.1 598.1 705.0 598.9 C701.9 599.7 698.4 599.7 694.1 598.9 C689.8 598.1 683.4 595.6 679.3 594.0 C675.2 592.4 672.4 590.8 669.4 589.0 C666.4 587.2 664.0 585.7 661.4 583.1 C658.8 580.5 655.8 576.2 653.5 573.2 C651.2 570.2 649.7 567.6 647.6 565.3 C645.5 563.0 641.9 560.4 640.7 559.4" stroke="#737373" stroke-width="1.35"/>
<path d="M418.5 697.2 C419.8 697.9 423.5 700.5 426.4 701.2 C429.2 701.9 432.8 702.1 435.6 701.2 C438.5 700.3 440.6 698.1 443.5 695.9 C446.4 693.7 449.7 691.1 452.8 688.0 C455.9 684.9 458.9 681.1 462.0 677.4 C465.1 673.7 468.6 669.8 471.2 665.6 C473.8 661.4 476.1 656.8 477.8 652.4 C479.5 648.0 480.3 643.6 481.1 639.2 C481.9 634.8 482.4 630.4 482.5 626.0 C482.6 621.6 482.1 616.3 481.8 612.8 C481.5 609.3 480.2 607.3 480.5 605.0 C480.8 602.7 481.7 601.6 483.7 598.8 C485.7 596.0 489.7 592.6 492.7 588.4 C495.7 584.2 499.4 579.0 501.6 573.6 C503.8 568.2 504.3 563.2 506.0 555.8 C507.7 548.4 509.8 536.4 512.0 529.0 C514.2 521.6 517.2 516.0 519.4 511.2 C521.6 506.4 523.0 503.7 525.0 500.0 C527.0 496.3 529.9 492.8 531.2 489.0 C532.5 485.2 531.9 481.0 533.0 477.0 C534.1 473.0 535.7 468.6 537.6 464.8 C539.5 461.0 542.6 457.4 544.6 454.0 C546.6 450.6 547.9 447.2 549.5 444.1 C551.1 441.0 553.0 438.0 554.5 435.2 C556.0 432.4 557.1 429.9 558.4 427.3 C559.7 424.7 561.4 422.0 562.4 419.3 C563.4 416.6 564.0 413.9 564.3 411.4 C564.6 408.9 564.4 406.8 564.3 404.5 C564.1 402.2 564.0 399.9 563.4 397.6 C562.8 395.3 561.4 392.7 560.4 390.7 C559.4 388.7 557.4 387.2 557.4 385.7 C557.4 384.2 558.9 383.0 560.4 381.8 C561.9 380.6 564.2 378.5 566.3 378.3 C568.4 378.1 572.1 380.4 573.2 380.8" stroke="#cbc7c3" stroke-width="1.35"/>
<path d="M573.2 380.8 C575.0 381.6 581.5 383.9 584.1 385.7 C586.7 387.5 587.1 389.9 588.8 391.5 C590.4 393.1 591.1 392.7 594.0 395.0 C596.9 397.3 601.9 401.2 606.2 405.4 C610.5 409.6 616.2 415.6 620.0 420.4 C623.8 425.2 626.1 429.8 629.2 434.2 C632.3 438.6 635.0 442.5 638.5 446.9 C642.0 451.3 646.2 455.8 650.0 460.8 C653.8 465.8 658.2 472.0 661.5 476.9 C664.8 481.8 667.7 486.1 670.0 490.0 C672.3 493.9 673.4 496.4 675.3 500.0 C677.2 503.6 678.9 507.8 681.2 511.9 C683.5 516.0 687.0 520.1 689.1 524.7 C691.2 529.3 693.3 533.8 694.1 539.6 C694.9 545.4 694.6 553.6 694.1 559.4 C693.6 565.2 692.6 570.6 691.1 574.2 C689.6 577.8 687.8 579.8 685.2 581.1 C682.6 582.4 678.6 582.3 675.3 582.1 C672.0 581.9 668.7 580.9 665.4 580.1 C662.1 579.3 658.5 578.4 655.5 577.2 C652.5 576.1 650.2 574.5 647.6 573.2 C645.0 571.9 642.3 570.3 639.7 569.3 C637.1 568.3 634.1 568.1 631.8 567.3 C629.5 566.5 626.1 565.6 625.8 564.3 C625.5 563.0 627.8 560.5 629.8 559.4 C631.8 558.2 636.4 557.7 637.7 557.4" stroke="#737373" stroke-width="1.35"/>
<path d="M610.5 291.7 C606.6 292.6 595.1 294.4 586.9 297.1 C578.7 299.8 568.1 303.8 561.5 308.0 C554.9 312.2 550.6 317.1 547.0 322.5 C543.4 327.9 541.0 334.4 539.8 340.7 C538.6 346.9 539.5 356.3 539.6 360.0 C539.7 363.7 539.8 360.9 540.6 363.0 C541.4 365.1 543.3 369.6 544.6 372.9 C545.9 376.2 547.5 379.1 548.5 382.7 C549.5 386.3 550.1 390.6 550.5 394.6 C550.9 398.6 551.0 403.7 551.0 406.5 C551.0 409.3 551.2 410.2 550.5 411.4 C549.8 412.5 547.5 413.4 546.5 413.4 C545.5 413.4 544.6 412.2 544.6 411.4 C544.6 410.6 545.4 409.0 546.5 408.5 C547.6 408.0 549.5 409.0 551.5 408.5 C553.5 408.0 557.2 406.0 558.4 405.5" stroke="#cbc7c3" stroke-width="1.35"/>
<path d="M558.4 405.5 C559.4 405.3 561.7 404.5 564.3 404.5 C566.9 404.5 570.1 405.0 574.2 405.5 C578.3 406.0 584.0 406.7 589.1 407.5 C594.2 408.3 600.9 409.0 605.0 410.4 C609.1 411.8 611.3 414.2 613.8 416.1 C616.3 418.0 617.0 418.2 620.0 421.5 C623.0 424.8 628.0 430.9 632.0 436.0 C636.0 441.1 640.0 446.7 644.0 452.0 C648.0 457.3 652.2 462.7 656.0 468.0 C659.8 473.3 663.7 479.3 667.0 484.0 C670.3 488.7 673.3 493.3 676.0 496.0 C678.7 498.7 680.7 496.9 683.2 500.0 C685.7 503.1 688.8 509.8 691.1 514.8 C693.4 519.8 695.8 524.8 697.1 529.7 C698.4 534.7 698.4 539.5 699.0 544.5 C699.6 549.5 700.5 554.4 701.0 559.4 C701.5 564.4 702.3 570.1 702.0 574.2 C701.7 578.3 700.3 582.1 699.0 584.1 C697.7 586.1 696.1 585.9 694.1 586.1 C692.1 586.3 690.0 585.4 687.2 585.1 C684.4 584.8 680.6 584.6 677.3 584.1 C674.0 583.6 670.7 582.9 667.4 582.1 C664.1 581.3 660.8 580.6 657.5 579.1 C654.2 577.6 650.6 575.2 647.6 573.2 C644.6 571.2 641.9 569.3 639.7 567.3 C637.6 565.3 634.9 562.8 634.7 561.3 C634.5 559.8 638.0 558.9 638.7 558.4" stroke="#737373" stroke-width="1.35"/>
<path d="M519.8 387.7 C520.3 388.5 521.0 390.1 522.8 392.6 C524.6 395.1 529.1 399.7 530.7 402.5 C532.4 405.3 532.2 406.7 532.7 409.5 C533.2 412.3 533.2 416.8 533.7 419.3 C534.2 421.8 535.1 424.0 535.7 424.3 C536.4 424.6 537.4 422.5 537.6 421.3 C537.8 420.1 536.2 418.2 536.7 417.4 C537.2 416.6 539.3 416.1 540.6 416.4 C541.9 416.7 543.6 418.1 544.6 419.3 C545.6 420.5 546.2 422.6 546.5 423.3" stroke="#cbc7c3" stroke-width="1.35"/>
<path d="M546.5 423.3 C548.1 424.1 552.6 426.2 556.4 428.2 C560.2 430.2 564.7 433.0 569.3 435.2 C573.9 437.4 578.0 439.0 584.1 441.1 C590.2 443.2 599.5 445.2 606.2 448.1 C613.0 451.0 618.8 455.4 624.6 458.5 C630.4 461.6 635.2 463.4 640.8 466.5 C646.4 469.6 653.3 473.6 658.1 476.9 C662.9 480.2 666.1 482.3 669.6 486.2 C673.1 490.1 676.4 495.2 679.3 500.0 C682.2 504.8 684.7 510.2 687.2 514.8 C689.7 519.4 692.5 523.6 694.1 527.7 C695.8 531.8 696.6 535.2 697.1 539.6 C697.6 544.0 697.3 549.5 697.1 554.4 C696.9 559.3 696.8 565.2 696.1 569.3 C695.4 573.4 694.6 576.8 693.1 579.1 C691.6 581.4 689.8 582.1 687.2 583.1 C684.6 584.1 680.3 584.6 677.3 585.1 C674.3 585.6 672.4 585.8 669.4 586.1 C666.4 586.4 662.8 586.9 659.5 587.1 C656.2 587.3 652.9 587.6 649.6 587.1 C646.3 586.6 642.7 585.6 639.7 584.1 C636.7 582.6 633.9 580.4 631.8 578.2 C629.6 576.1 627.5 573.5 626.8 571.2 C626.1 568.9 626.8 566.3 627.8 564.3 C628.8 562.3 630.8 560.5 632.8 559.4 C634.8 558.3 638.6 558.1 639.7 557.9" stroke="#737373" stroke-width="1.35"/>
<path d="M481.1 623.3 C480.6 623.0 478.8 622.3 477.8 621.4 C476.8 620.5 475.4 619.3 475.2 618.1 C475.0 616.9 475.4 615.7 476.5 614.1 C477.6 612.5 480.2 610.6 481.8 608.8 C483.4 607.0 485.8 605.5 485.8 603.5 C485.8 601.5 481.8 599.9 482.0 597.0 C482.2 594.1 485.3 589.7 487.0 586.0 C488.7 582.3 490.3 579.0 492.0 575.0 C493.7 571.0 495.7 566.5 497.0 562.0 C498.3 557.5 499.0 552.5 500.0 548.0 C501.0 543.5 502.2 539.1 503.0 535.0 C503.8 530.9 504.0 526.9 504.5 523.1 C505.0 519.3 505.1 515.4 506.0 512.0 C506.9 508.6 508.6 505.7 510.0 503.0 C511.4 500.3 513.7 497.0 514.4 495.8" stroke="#cbc7c3" stroke-width="1.35"/>
<path d="M514.4 495.8 C515.0 494.3 516.9 489.6 518.0 487.0 C519.1 484.4 519.6 482.5 520.8 480.0 C522.0 477.5 523.5 474.2 525.0 472.0 C526.5 469.8 528.1 469.0 529.7 467.0 C531.3 465.0 533.4 462.0 534.7 460.0 C536.0 458.0 536.0 456.5 537.6 455.0 C539.2 453.5 541.8 451.8 544.6 451.0 C547.4 450.2 551.5 449.7 554.5 450.0 C557.5 450.3 559.1 451.2 562.4 453.0 C565.7 454.8 570.6 458.4 574.2 460.9 C577.8 463.4 580.5 465.2 584.1 467.8 C587.7 470.4 591.9 473.6 596.0 476.7 C600.1 479.8 604.4 482.3 608.5 486.2 C612.6 490.1 616.9 496.1 620.9 500.0 C624.9 503.9 629.2 506.6 632.8 509.9 C636.4 513.2 639.8 516.5 642.6 519.8 C645.4 523.1 647.8 526.4 649.6 529.7 C651.4 533.0 652.5 536.3 653.5 539.6 C654.5 542.9 655.0 546.5 655.5 549.5 C656.0 552.5 655.7 555.6 656.5 557.4 C657.3 559.2 661.0 560.0 660.5 560.3 C660.0 560.6 656.3 560.0 653.5 559.4 C650.7 558.8 646.1 557.6 643.6 556.9 C641.1 556.2 639.9 556.3 638.7 555.4 C637.5 554.5 636.6 552.1 636.2 551.4" stroke="#737373" stroke-width="1.35"/>
<path d="M584.0 471.0 C584.9 470.1 587.1 467.3 589.1 465.8 C591.1 464.3 593.4 463.2 596.0 461.9 C598.6 460.6 601.4 458.5 605.0 457.9 C608.6 457.3 613.7 458.0 617.7 458.5 C621.7 459.0 625.4 459.9 629.2 460.8 C633.1 461.8 637.7 462.9 640.8 464.2 C643.9 465.5 645.8 466.2 647.7 468.8 C649.6 471.4 650.4 474.8 652.0 480.0 C653.6 485.2 655.3 494.2 657.5 500.0 C659.7 505.8 663.3 509.8 665.4 514.8 C667.5 519.8 669.0 524.8 670.3 529.7 C671.6 534.7 672.1 539.5 673.3 544.5 C674.5 549.5 676.0 555.3 677.3 559.4 C678.6 563.5 680.9 566.0 681.2 569.3 C681.5 572.6 680.6 576.5 679.3 579.1 C678.0 581.7 675.6 583.8 673.3 585.1 C671.0 586.4 668.0 586.9 665.4 587.1 C662.8 587.3 660.5 587.1 657.5 586.1 C654.5 585.1 650.6 582.9 647.6 581.1 C644.6 579.3 642.0 577.2 639.7 575.2 C637.4 573.2 635.0 571.3 633.7 569.3 C632.4 567.3 631.3 565.1 631.8 563.3 C632.3 561.5 635.9 559.2 636.7 558.4" stroke="#737373" stroke-width="1.35"/>
<path d="M658.5 802.2 C657.8 799.9 655.4 792.1 654.2 788.6 C653.0 785.1 652.8 785.0 651.1 781.1 C649.5 777.2 645.8 769.8 644.3 765.1 C642.8 760.4 642.6 757.5 641.8 752.7 C641.0 748.0 640.2 741.6 639.3 736.6 C638.4 731.6 637.4 726.3 636.2 723.0 C635.0 719.7 634.3 719.4 631.9 716.9 C629.5 714.4 624.7 711.1 622.0 708.2 C619.3 705.3 618.1 702.3 615.8 699.6 C613.5 696.9 611.1 694.2 608.4 692.1 C605.7 690.0 601.9 688.6 599.8 687.2 C597.6 685.8 596.2 685.4 595.5 683.5 C594.8 681.6 596.0 678.4 595.5 676.1 C595.0 673.8 593.7 671.7 592.4 669.9 C591.1 668.1 589.4 667.0 587.5 665.1 C585.6 663.2 582.4 660.9 580.9 658.5 C579.4 656.1 579.4 653.2 578.3 650.6 C577.2 648.0 575.6 645.1 574.3 642.7 C573.0 640.3 571.3 637.4 570.3 636.1 C569.3 634.8 568.5 635.2 568.4 634.8 C568.3 634.4 569.8 634.6 569.7 633.5 C569.6 632.4 568.2 630.0 567.7 628.2 C567.2 626.4 567.0 624.7 566.4 622.9 C565.8 621.1 564.8 618.7 563.8 617.6 C562.8 616.5 560.7 616.7 560.5 616.3 C560.3 615.9 561.4 615.6 562.4 615.0 C563.4 614.4 565.5 613.9 566.4 612.4 C567.3 610.9 567.9 608.0 567.7 605.8 C567.5 603.6 566.2 600.8 565.1 599.2 C564.0 597.7 562.7 596.7 561.1 596.5 C559.5 596.3 556.9 598.0 555.8 597.8 C554.7 597.6 554.3 595.9 554.5 595.2 C554.7 594.6 556.1 594.8 557.2 593.9 C558.3 593.0 561.1 591.2 561.1 589.9 C561.1 588.6 558.5 587.5 557.2 586.0 C555.9 584.5 553.7 582.2 553.2 580.7 C552.8 579.2 554.1 578.5 554.5 576.7 C554.9 574.9 556.0 572.1 555.8 570.1 C555.6 568.1 554.3 565.8 553.2 564.9 C552.1 564.0 550.1 564.2 549.2 564.9 C548.3 565.5 547.7 567.3 547.9 568.8 C548.1 570.3 549.5 573.0 550.6 574.1 C551.7 575.2 553.2 575.6 554.5 575.4 C555.8 575.2 557.2 574.1 558.5 572.8 C559.8 571.5 561.1 569.9 562.4 567.5 C563.7 565.1 565.7 559.8 566.4 558.3" stroke="#e4df5c" stroke-width="1.35"/>
<path d="M566.4 558.3 C567.4 556.6 569.6 552.6 572.4 548.3 C575.2 544.0 579.4 537.1 583.2 532.7 C587.0 528.3 591.6 525.0 595.0 522.0 C598.4 519.0 602.3 515.8 603.8 514.5" stroke="#cbc7c3" stroke-width="1.35"/>
<path d="M603.8 514.5 C604.8 514.1 606.2 513.2 610.0 511.9 C613.8 510.5 620.2 506.9 626.8 506.4 C633.4 505.9 642.5 507.6 649.6 508.9 C656.7 510.1 663.6 511.8 669.4 513.9 C675.2 516.0 679.9 518.7 684.2 521.8 C688.5 524.9 692.3 528.0 695.1 532.6 C697.9 537.2 699.5 544.7 701.0 549.5 C702.5 554.3 703.7 557.0 704.0 561.3 C704.3 565.6 704.0 571.4 703.0 575.2 C702.0 579.0 700.3 581.8 698.0 584.1 C695.7 586.4 692.2 587.9 689.1 589.0 C686.0 590.1 682.6 590.5 679.3 591.0 C676.0 591.5 672.7 592.0 669.4 592.0 C666.1 592.0 662.5 591.7 659.5 591.0 C656.5 590.3 654.1 589.3 651.6 588.0 C649.1 586.7 647.2 585.1 644.6 583.1 C642.0 581.1 638.2 578.5 635.7 576.2 C633.2 573.9 630.3 571.6 629.8 569.3 C629.3 567.0 631.3 564.1 632.8 562.3 C634.3 560.5 637.7 559.0 638.7 558.4" stroke="#737373" stroke-width="1.35"/>
<path d="M522.7 510.2 C523.2 509.0 524.6 505.1 526.0 503.0 C527.4 500.9 529.1 499.5 530.9 497.8 C532.7 496.1 534.9 494.4 537.0 493.0 C539.1 491.6 540.8 490.9 543.3 489.6 C545.8 488.3 548.9 486.4 552.0 485.0 C555.1 483.6 558.6 482.1 561.9 481.3 C565.2 480.5 568.6 480.2 572.0 480.0 C575.4 479.8 579.0 480.1 582.5 480.3 C586.0 480.6 589.6 481.0 593.0 481.5 C596.4 482.0 599.6 482.5 603.1 483.4 C606.6 484.3 610.6 485.6 614.0 487.0 C617.4 488.4 620.5 490.1 623.7 491.6 C626.9 493.1 630.3 494.6 633.0 496.0 C635.7 497.4 636.5 498.0 639.7 500.0 C643.0 502.0 648.5 505.8 652.5 507.9 C656.5 510.0 660.6 511.2 663.4 512.9 C666.2 514.5 667.8 515.8 669.4 517.8 C671.0 519.8 672.4 521.9 673.3 524.7 C674.2 527.5 674.3 531.8 674.8 534.6 C675.3 537.4 675.7 539.1 676.3 541.6 C676.9 544.1 677.5 547.2 678.3 549.5 C679.1 551.8 680.4 553.1 681.2 555.4 C682.0 557.7 682.7 560.2 683.2 563.3 C683.7 566.4 684.4 570.6 684.2 574.2 C684.0 577.8 683.4 582.0 682.2 585.1 C681.1 588.2 679.4 591.0 677.3 593.0 C675.2 595.0 672.4 596.6 669.4 597.4 C666.4 598.2 662.5 598.1 659.5 597.9 C656.5 597.7 654.9 597.1 651.6 596.0 C648.3 594.9 643.3 592.8 639.7 591.0 C636.1 589.2 632.8 587.4 629.8 585.1 C626.8 582.8 623.5 579.7 621.9 577.2 C620.2 574.7 619.7 572.4 619.9 570.2 C620.1 568.1 621.2 566.3 622.9 564.3 C624.5 562.3 627.7 559.7 629.8 558.4 C631.9 557.1 634.1 556.6 635.7 556.4 C637.4 556.1 639.0 556.8 639.7 556.9" stroke="#868612" stroke-width="1.35"/>
</g>
<circle cx="640.8" cy="558.9" r="2.6" fill="#800080"/>
<circle cx="640.6" cy="558.6" r="2.0" fill="#000"/>
<g transform="translate(1400.2,278.9)"><path d="M4.88 -4.88A6.9 6.9 0 1 1 -4.44 -5.28" fill="none" stroke="#000" stroke-width="3.35"/><path d="M0.8 -8.9H9.8V-5.4H3.8V0H0.8Z" fill="#000"/></g>
<g transform="translate(1564.8,333.1)"><path d="M4.88 -4.88A6.9 6.9 0 1 1 -4.44 -5.28" fill="none" stroke="#000" stroke-width="3.35"/><path d="M0.8 -8.9H9.8V-5.4H3.8V0H0.8Z" fill="#000"/></g>
<g transform="translate(1548.7,384.9)"><path d="M4.88 -4.88A6.9 6.9 0 1 1 -4.44 -5.28" fill="none" stroke="#000" stroke-width="3.35"/><path d="M0.8 -8.9H9.8V-5.4H3.8V0H0.8Z" fill="#000"/></g>
<g transform="translate(1522.9,427.9)"><path d="M4.88 -4.88A6.9 6.9 0 1 1 -4.44 -5.28" fill="none" stroke="#000" stroke-width="3.35"/><path d="M0.8 -8.9H9.8V-5.4H3.8V0H0.8Z" fill="#000"/></g>
<g transform="translate(1494.3,452.5)"><path d="M4.88 -4.88A6.9 6.9 0 1 1 -4.44 -5.28" fill="none" stroke="#000" stroke-width="3.35"/><path d="M0.8 -8.9H9.8V-5.4H3.8V0H0.8Z" fill="#000"/></g>
<g transform="translate(1470.1,477.6)"><path d="M4.88 -4.88A6.9 6.9 0 1 1 -4.44 -5.28" fill="none" stroke="#000" stroke-width="3.35"/><path d="M0.8 -8.9H9.8V-5.4H3.8V0H0.8Z" fill="#000"/></g>
<g transform="translate(1442.2,496.6)"><path d="M4.88 -4.88A6.9 6.9 0 1 1 -4.44 -5.28" fill="none" stroke="#000" stroke-width="3.35"/><path d="M0.8 -8.9H9.8V-5.4H3.8V0H0.8Z" fill="#000"/></g>
<g transform="translate(1421.9,500.6)"><path d="M4.88 -4.88A6.9 6.9 0 1 1 -4.44 -5.28" fill="none" stroke="#000" stroke-width="3.35"/><path d="M0.8 -8.9H9.8V-5.4H3.8V0H0.8Z" fill="#000"/></g>
<g transform="translate(803.3,434.3)"><path d="M4.88 -4.88A6.9 6.9 0 1 1 -4.44 -5.28" fill="none" stroke="#000" stroke-width="3.35"/><path d="M0.8 -8.9H9.8V-5.4H3.8V0H0.8Z" fill="#000"/></g>
<g transform="translate(834.1,429.6)"><path d="M4.88 -4.88A6.9 6.9 0 1 1 -4.44 -5.28" fill="none" stroke="#000" stroke-width="3.35"/><path d="M0.8 -8.9H9.8V-5.4H3.8V0H0.8Z" fill="#000"/></g>
<g transform="translate(862.3,413.1)"><path d="M4.88 -4.88A6.9 6.9 0 1 1 -4.44 -5.28" fill="none" stroke="#000" stroke-width="3.35"/><path d="M0.8 -8.9H9.8V-5.4H3.8V0H0.8Z" fill="#000"/></g>
<g transform="translate(889.4,429.6)"><path d="M4.88 -4.88A6.9 6.9 0 1 1 -4.44 -5.28" fill="none" stroke="#000" stroke-width="3.35"/><path d="M0.8 -8.9H9.8V-5.4H3.8V0H0.8Z" fill="#000"/></g>
<g transform="translate(909.1,443.8)"><path d="M4.88 -4.88A6.9 6.9 0 1 1 -4.44 -5.28" fill="none" stroke="#000" stroke-width="3.35"/><path d="M0.8 -8.9H9.8V-5.4H3.8V0H0.8Z" fill="#000"/></g>
<g transform="translate(921.5,443.8)"><path d="M4.88 -4.88A6.9 6.9 0 1 1 -4.44 -5.28" fill="none" stroke="#000" stroke-width="3.35"/><path d="M0.8 -8.9H9.8V-5.4H3.8V0H0.8Z" fill="#000"/></g>
<g transform="translate(948.6,449.9)"><path d="M4.88 -4.88A6.9 6.9 0 1 1 -4.44 -5.28" fill="none" stroke="#000" stroke-width="3.35"/><path d="M0.8 -8.9H9.8V-5.4H3.8V0H0.8Z" fill="#000"/></g>
<g transform="translate(981.1,445.2)"><path d="M4.88 -4.88A6.9 6.9 0 1 1 -4.44 -5.28" fill="none" stroke="#000" stroke-width="3.35"/><path d="M0.8 -8.9H9.8V-5.4H3.8V0H0.8Z" fill="#000"/></g>
<g transform="translate(1032.1,422.4)"><path d="M4.88 -4.88A6.9 6.9 0 1 1 -4.44 -5.28" fill="none" stroke="#000" stroke-width="3.35"/><path d="M0.8 -8.9H9.8V-5.4H3.8V0H0.8Z" fill="#000"/></g>
<g transform="translate(1087.4,411.6)"><path d="M4.88 -4.88A6.9 6.9 0 1 1 -4.44 -5.28" fill="none" stroke="#000" stroke-width="3.35"/><path d="M0.8 -8.9H9.8V-5.4H3.8V0H0.8Z" fill="#000"/></g>
<g transform="translate(1142.1,406.1)"><path d="M4.88 -4.88A6.9 6.9 0 1 1 -4.44 -5.28" fill="none" stroke="#000" stroke-width="3.35"/><path d="M0.8 -8.9H9.8V-5.4H3.8V0H0.8Z" fill="#000"/></g>
<g transform="translate(545.2,484.4)"><path d="M4.88 -4.88A6.9 6.9 0 1 1 -4.44 -5.28" fill="none" stroke="#000" stroke-width="3.35"/><path d="M0.8 -8.9H9.8V-5.4H3.8V0H0.8Z" fill="#000"/></g>
<g transform="translate(587.2,473.3)"><path d="M4.88 -4.88A6.9 6.9 0 1 1 -4.44 -5.28" fill="none" stroke="#000" stroke-width="3.35"/><path d="M0.8 -8.9H9.8V-5.4H3.8V0H0.8Z" fill="#000"/></g>
<g transform="translate(638.4,461.5)"><path d="M4.88 -4.88A6.9 6.9 0 1 1 -4.44 -5.28" fill="none" stroke="#000" stroke-width="3.35"/><path d="M0.8 -8.9H9.8V-5.4H3.8V0H0.8Z" fill="#000"/></g>
<g transform="translate(686.3,447.8)"><path d="M4.88 -4.88A6.9 6.9 0 1 1 -4.44 -5.28" fill="none" stroke="#000" stroke-width="3.35"/><path d="M0.8 -8.9H9.8V-5.4H3.8V0H0.8Z" fill="#000"/></g>
<g transform="translate(733.2,443.8)"><path d="M4.88 -4.88A6.9 6.9 0 1 1 -4.44 -5.28" fill="none" stroke="#000" stroke-width="3.35"/><path d="M0.8 -8.9H9.8V-5.4H3.8V0H0.8Z" fill="#000"/></g>
<rect x="80.2" y="89.3" width="1541.3" height="962.9" fill="none" stroke="#000" stroke-width="1.2"/>
<text x="79.3" y="22" font-weight="bold" font-size="16.6" fill="#000" textLength="449.6" lengthAdjust="spacingAndGlyphs" xml:space="preserve">Maximum forecast trajectory duration : 10 days</text>
<text x="79.3" y="41.2" font-weight="bold" font-size="16.6" fill="#000" textLength="248.6" lengthAdjust="spacingAndGlyphs" xml:space="preserve">Intercept distance: 300km</text>
<text x="79.3" y="60.7" font-weight="bold" font-size="16.6" fill="#000" textLength="291.4" lengthAdjust="spacingAndGlyphs" xml:space="preserve">Intercept RW2 (EPS):  30km/h2</text>
<text x="79.3" y="80" font-weight="bold" font-size="16.6" fill="#000" textLength="299" lengthAdjust="spacingAndGlyphs" xml:space="preserve">Intercept RW2 (HRES): 30km/h2</text>
<text x="1205" y="22" font-weight="bold" font-size="16.6" fill="#000" textLength="257.5" lengthAdjust="spacingAndGlyphs" xml:space="preserve">Site: LaReunion_SaintDenis</text>
<text x="1205" y="41.2" font-weight="bold" font-size="16.6" fill="#000" textLength="351" lengthAdjust="spacingAndGlyphs" xml:space="preserve">Forecast date: Mon. 29/12, 12h (UTC)</text>
<text x="1205" y="60.7" font-weight="bold" font-size="16.6" fill="#000" textLength="357" lengthAdjust="spacingAndGlyphs" xml:space="preserve">Speed function: U10_speed_Helikite_4</text>
<text x="1205" y="80" font-weight="bold" font-size="16.6" fill="#000" textLength="376" lengthAdjust="spacingAndGlyphs" xml:space="preserve">Deployment date: Tue. 30/12, 02h (UTC)</text>
<text x="618" y="62" font-weight="bold" font-size="41.5" fill="#000" textLength="462" lengthAdjust="spacingAndGlyphs" xml:space="preserve">Tue. 30/12, 06h (LT)</text>
<text x="10.5" y="316" font-weight="bold" font-size="22.4" fill="#000" textLength="52.5" lengthAdjust="spacingAndGlyphs" xml:space="preserve">10°S</text>
<text x="11.5" y="544" font-weight="bold" font-size="22.4" fill="#000" textLength="52.5" lengthAdjust="spacingAndGlyphs" xml:space="preserve">20°S</text>
<text x="10.5" y="788" font-weight="bold" font-size="22.4" fill="#000" textLength="52.5" lengthAdjust="spacingAndGlyphs" xml:space="preserve">30°S</text>
<text x="273.95" y="1083" font-weight="bold" font-size="22.4" fill="#000" textLength="52.5" lengthAdjust="spacingAndGlyphs" xml:space="preserve">40°E</text>
<text x="714.15" y="1083" font-weight="bold" font-size="22.4" fill="#000" textLength="52.5" lengthAdjust="spacingAndGlyphs" xml:space="preserve">60°E</text>
<text x="1154.75" y="1083" font-weight="bold" font-size="22.4" fill="#000" textLength="52.5" lengthAdjust="spacingAndGlyphs" xml:space="preserve">80°E</text>
<text x="1587.6" y="1083" font-weight="bold" font-size="22.4" fill="#000" textLength="66" lengthAdjust="spacingAndGlyphs" xml:space="preserve">100°E</text>
<rect x="1665.5" y="189.4" width="19.80" height="750.00" fill="#e3eef9"/>
<rect x="1665.5" y="189.4" width="19.80" height="721.15" fill="#dceaf6"/>
<rect x="1665.5" y="189.4" width="19.80" height="692.31" fill="#d5e5f4"/>
<rect x="1665.5" y="189.4" width="19.80" height="663.46" fill="#cee0f2"/>
<rect x="1665.5" y="189.4" width="19.80" height="634.62" fill="#c7dcef"/>
<rect x="1665.5" y="189.4" width="19.80" height="605.77" fill="#bdd7ec"/>
<rect x="1665.5" y="189.4" width="19.80" height="576.92" fill="#b2d2e8"/>
<rect x="1665.5" y="189.4" width="19.80" height="548.08" fill="#a5cde3"/>
<rect x="1665.5" y="189.4" width="19.80" height="519.23" fill="#99c7e0"/>
<rect x="1665.5" y="189.4" width="19.80" height="490.38" fill="#8abfdd"/>
<rect x="1665.5" y="189.4" width="19.80" height="461.54" fill="#7cb7da"/>
<rect x="1665.5" y="189.4" width="19.80" height="432.69" fill="#6dafd7"/>
<rect x="1665.5" y="189.4" width="19.80" height="403.85" fill="#60a7d2"/>
<rect x="1665.5" y="189.4" width="19.80" height="375.00" fill="#549fcd"/>
<rect x="1665.5" y="189.4" width="19.80" height="346.15" fill="#4997c9"/>
<rect x="1665.5" y="189.4" width="19.80" height="317.31" fill="#3e8ec4"/>
<rect x="1665.5" y="189.4" width="19.80" height="288.46" fill="#3484bf"/>
<rect x="1665.5" y="189.4" width="19.80" height="259.62" fill="#2b7bba"/>
<rect x="1665.5" y="189.4" width="19.80" height="230.77" fill="#2171b5"/>
<rect x="1665.5" y="189.4" width="19.80" height="201.92" fill="#1a68ae"/>
<rect x="1665.5" y="189.4" width="19.80" height="173.08" fill="#135fa7"/>
<rect x="1665.5" y="189.4" width="19.80" height="144.23" fill="#0b559f"/>
<rect x="1665.5" y="189.4" width="19.80" height="115.38" fill="#084c95"/>
<rect x="1665.5" y="189.4" width="19.80" height="86.54" fill="#084387"/>
<rect x="1665.5" y="189.4" width="19.80" height="57.69" fill="#083979"/>
<rect x="1665.5" y="189.4" width="19.80" height="28.85" fill="#08306b"/>
<rect x="1665.5" y="189.4" width="19.80" height="750.00" fill="none" stroke="#000" stroke-width="1.1"/>
<line x1="1685.3" y1="939.40" x2="1690.3" y2="939.40" stroke="#000" stroke-width="1.1"/>
<text x="1695.5" y="945.1999999999999" font-size="13.9" fill="#000" xml:space="preserve">0</text>
<line x1="1685.3" y1="795.17" x2="1690.3" y2="795.17" stroke="#000" stroke-width="1.1"/>
<text x="1695.5" y="800.9692307692308" font-size="13.9" fill="#000" textLength="15.6" lengthAdjust="spacingAndGlyphs" xml:space="preserve">10</text>
<line x1="1685.3" y1="650.94" x2="1690.3" y2="650.94" stroke="#000" stroke-width="1.1"/>
<text x="1695.5" y="656.7384615384615" font-size="13.9" fill="#000" textLength="15.6" lengthAdjust="spacingAndGlyphs" xml:space="preserve">20</text>
<line x1="1685.3" y1="506.71" x2="1690.3" y2="506.71" stroke="#000" stroke-width="1.1"/>
<text x="1695.5" y="512.5076923076923" font-size="13.9" fill="#000" textLength="15.6" lengthAdjust="spacingAndGlyphs" xml:space="preserve">30</text>
<line x1="1685.3" y1="362.48" x2="1690.3" y2="362.48" stroke="#000" stroke-width="1.1"/>
<text x="1695.5" y="368.2769230769231" font-size="13.9" fill="#000" textLength="15.6" lengthAdjust="spacingAndGlyphs" xml:space="preserve">40</text>
<line x1="1685.3" y1="218.25" x2="1690.3" y2="218.25" stroke="#000" stroke-width="1.1"/>
<text x="1695.5" y="224.0461538461538" font-size="13.9" fill="#000" textLength="15.6" lengthAdjust="spacingAndGlyphs" xml:space="preserve">50</text>
<text transform="translate(1737,930) rotate(-90)" font-weight="bold" font-size="19.4" fill="#000" textLength="612" lengthAdjust="spacingAndGlyphs">Named cyclones forecast - Number of EPS within 120km</text>
<rect x="1274.4" y="874.4" width="339.3" height="168.9" rx="3" ry="3" fill="#fff" fill-opacity="0.8" stroke="#000" stroke-width="1.1"/>
<line x1="1281" y1="887.5" x2="1315" y2="887.5" stroke="#666666" stroke-width="1.4" stroke-linecap="square"/>
<text x="1325.6" y="893.1" font-size="16.6" fill="#000" textLength="129.4" lengthAdjust="spacingAndGlyphs">No Interception</text>
<line x1="1281" y1="910.5" x2="1315" y2="910.5" stroke="#ff4500" stroke-width="1.1" stroke-linecap="square"/>
<text x="1325.6" y="916.4" font-size="16.6" fill="#000" textLength="279.4" lengthAdjust="spacingAndGlyphs">Interception from Named cyclone</text>
<line x1="1281" y1="933.5" x2="1315" y2="933.5" stroke="#808000" stroke-width="1.1" stroke-linecap="square"/>
<text x="1325.6" y="939.6" font-size="16.6" fill="#000" textLength="220.4" lengthAdjust="spacingAndGlyphs">Interception from Trochoid</text>
<line x1="1281" y1="957.5" x2="1315" y2="957.5" stroke="#008000" stroke-width="1.1" stroke-linecap="square"/>
<text x="1325.6" y="963.2" font-size="16.6" fill="#000" textLength="188.9" lengthAdjust="spacingAndGlyphs">Interception from both</text>
<line x1="1281" y1="980.2" x2="1315" y2="980.2" stroke="#800080" stroke-width="4.2" stroke-linecap="square"/>
<text x="1325.6" y="986.3" font-size="16.6" fill="#000" textLength="44.9" lengthAdjust="spacingAndGlyphs">HRES</text>
<line x1="1281" y1="1003.4" x2="1315" y2="1003.4" stroke="#000" stroke-width="4.2" stroke-linecap="square"/>
<text x="1325.6" y="1009.5" font-size="16.6" fill="#000" textLength="182.9" lengthAdjust="spacingAndGlyphs">Analysis | 0h duration</text>
<g transform="translate(1297.6,1028.5) scale(0.7)"><path d="M4.88 -4.88A6.9 6.9 0 1 1 -4.44 -5.28" fill="none" stroke="#000" stroke-width="3.35"/><path d="M0.8 -8.9H9.8V-5.4H3.8V0H0.8Z" fill="#000"/></g>
<text x="1325.6" y="1034.0" font-size="16.6" fill="#000" textLength="238.4" lengthAdjust="spacingAndGlyphs">TC obs. for analysis duration</text>
<rect x="25.4" y="1137.3" width="1640.20" height="41.10" fill="#a70d45"/>
<rect x="25.4" y="1137.3" width="82.01" height="41.10" fill="#9e0142"/>
<rect x="25.4" y="1137.3" width="1640.20" height="41.10" fill="none" stroke="#000" stroke-width="1.1"/>
<text x="127.91" y="1162.0" font-weight="bold" font-size="12.4" fill="#000" text-anchor="middle">2</text>
<text x="168.92" y="1162.0" font-weight="bold" font-size="12.4" fill="#000" text-anchor="middle">2</text>
<text x="209.92" y="1162.0" font-weight="bold" font-size="12.4" fill="#000" text-anchor="middle">2</text>
<text x="250.93" y="1162.0" font-weight="bold" font-size="12.4" fill="#000" text-anchor="middle">2</text>
<text x="291.93" y="1162.0" font-weight="bold" font-size="12.4" fill="#000" text-anchor="middle">2</text>
<text x="332.94" y="1162.0" font-weight="bold" font-size="12.4" fill="#000" text-anchor="middle">2</text>
<text x="373.94" y="1162.0" font-weight="bold" font-size="12.4" fill="#000" text-anchor="middle">2</text>
<text x="414.95" y="1162.0" font-weight="bold" font-size="12.4" fill="#000" text-anchor="middle">2</text>
<text x="455.95" y="1162.0" font-weight="bold" font-size="12.4" fill="#000" text-anchor="middle">2</text>
<text x="496.96" y="1162.0" font-weight="bold" font-size="12.4" fill="#000" text-anchor="middle">2</text>
<text x="537.96" y="1162.0" font-weight="bold" font-size="12.4" fill="#000" text-anchor="middle">2</text>
<text x="578.97" y="1162.0" font-weight="bold" font-size="12.4" fill="#000" text-anchor="middle">2</text>
<text x="619.97" y="1162.0" font-weight="bold" font-size="12.4" fill="#000" text-anchor="middle">2</text>
<text x="660.98" y="1162.0" font-weight="bold" font-size="12.4" fill="#000" text-anchor="middle">2</text>
<text x="701.98" y="1162.0" font-weight="bold" font-size="12.4" fill="#000" text-anchor="middle">2</text>
<text x="742.99" y="1162.0" font-weight="bold" font-size="12.4" fill="#000" text-anchor="middle">2</text>
<text x="783.99" y="1162.0" font-weight="bold" font-size="12.4" fill="#000" text-anchor="middle">2</text>
<text x="825.00" y="1162.0" font-weight="bold" font-size="12.4" fill="#000" text-anchor="middle">2</text>
<text x="866.00" y="1162.0" font-weight="bold" font-size="12.4" fill="#000" text-anchor="middle">2</text>
<text x="907.01" y="1162.0" font-weight="bold" font-size="12.4" fill="#000" text-anchor="middle">2</text>
<text x="948.01" y="1162.0" font-weight="bold" font-size="12.4" fill="#000" text-anchor="middle">2</text>
<text x="989.02" y="1162.0" font-weight="bold" font-size="12.4" fill="#000" text-anchor="middle">2</text>
<text x="1030.02" y="1162.0" font-weight="bold" font-size="12.4" fill="#000" text-anchor="middle">2</text>
<text x="1071.03" y="1162.0" font-weight="bold" font-size="12.4" fill="#000" text-anchor="middle">2</text>
<text x="1112.03" y="1162.0" font-weight="bold" font-size="12.4" fill="#000" text-anchor="middle">2</text>
<text x="1153.04" y="1162.0" font-weight="bold" font-size="12.4" fill="#000" text-anchor="middle">2</text>
<text x="1194.04" y="1162.0" font-weight="bold" font-size="12.4" fill="#000" text-anchor="middle">2</text>
<text x="1235.05" y="1162.0" font-weight="bold" font-size="12.4" fill="#000" text-anchor="middle">2</text>
<text x="1276.05" y="1162.0" font-weight="bold" font-size="12.4" fill="#000" text-anchor="middle">2</text>
<text x="1317.06" y="1162.0" font-weight="bold" font-size="12.4" fill="#000" text-anchor="middle">2</text>
<text x="1358.06" y="1162.0" font-weight="bold" font-size="12.4" fill="#000" text-anchor="middle">2</text>
<text x="1399.07" y="1162.0" font-weight="bold" font-size="12.4" fill="#000" text-anchor="middle">2</text>
<text x="1440.07" y="1162.0" font-weight="bold" font-size="12.4" fill="#000" text-anchor="middle">2</text>
<text x="1481.08" y="1162.0" font-weight="bold" font-size="12.4" fill="#000" text-anchor="middle">2</text>
<text x="1522.08" y="1162.0" font-weight="bold" font-size="12.4" fill="#000" text-anchor="middle">2</text>
<text x="1563.09" y="1162.0" font-weight="bold" font-size="12.4" fill="#000" text-anchor="middle">2</text>
<text x="1604.09" y="1162.0" font-weight="bold" font-size="12.4" fill="#000" text-anchor="middle">2</text>
<text x="1645.10" y="1162.0" font-weight="bold" font-size="12.4" fill="#000" text-anchor="middle">2</text>
<line x1="25.40" y1="1178.4" x2="25.40" y2="1183.4" stroke="#000" stroke-width="1.1"/>
<line x1="66.41" y1="1178.4" x2="66.41" y2="1183.4" stroke="#000" stroke-width="1.1"/>
<line x1="107.41" y1="1178.4" x2="107.41" y2="1183.4" stroke="#000" stroke-width="1.1"/>
<line x1="148.41" y1="1178.4" x2="148.41" y2="1183.4" stroke="#000" stroke-width="1.1"/>
<line x1="189.42" y1="1178.4" x2="189.42" y2="1183.4" stroke="#000" stroke-width="1.1"/>
<line x1="230.42" y1="1178.4" x2="230.42" y2="1183.4" stroke="#000" stroke-width="1.1"/>
<line x1="271.43" y1="1178.4" x2="271.43" y2="1183.4" stroke="#000" stroke-width="1.1"/>
<line x1="312.43" y1="1178.4" x2="312.43" y2="1183.4" stroke="#000" stroke-width="1.1"/>
<line x1="353.44" y1="1178.4" x2="353.44" y2="1183.4" stroke="#000" stroke-width="1.1"/>
<line x1="394.44" y1="1178.4" x2="394.44" y2="1183.4" stroke="#000" stroke-width="1.1"/>
<line x1="435.45" y1="1178.4" x2="435.45" y2="1183.4" stroke="#000" stroke-width="1.1"/>
<line x1="476.45" y1="1178.4" x2="476.45" y2="1183.4" stroke="#000" stroke-width="1.1"/>
<line x1="517.46" y1="1178.4" x2="517.46" y2="1183.4" stroke="#000" stroke-width="1.1"/>
<line x1="558.46" y1="1178.4" x2="558.46" y2="1183.4" stroke="#000" stroke-width="1.1"/>
<line x1="599.47" y1="1178.4" x2="599.47" y2="1183.4" stroke="#000" stroke-width="1.1"/>
<line x1="640.47" y1="1178.4" x2="640.47" y2="1183.4" stroke="#000" stroke-width="1.1"/>
<line x1="681.48" y1="1178.4" x2="681.48" y2="1183.4" stroke="#000" stroke-width="1.1"/>
<line x1="722.48" y1="1178.4" x2="722.48" y2="1183.4" stroke="#000" stroke-width="1.1"/>
<line x1="763.49" y1="1178.4" x2="763.49" y2="1183.4" stroke="#000" stroke-width="1.1"/>
<line x1="804.49" y1="1178.4" x2="804.49" y2="1183.4" stroke="#000" stroke-width="1.1"/>
<line x1="845.50" y1="1178.4" x2="845.50" y2="1183.4" stroke="#000" stroke-width="1.1"/>
<line x1="886.50" y1="1178.4" x2="886.50" y2="1183.4" stroke="#000" stroke-width="1.1"/>
<line x1="927.51" y1="1178.4" x2="927.51" y2="1183.4" stroke="#000" stroke-width="1.1"/>
<line x1="968.51" y1="1178.4" x2="968.51" y2="1183.4" stroke="#000" stroke-width="1.1"/>
<line x1="1009.52" y1="1178.4" x2="1009.52" y2="1183.4" stroke="#000" stroke-width="1.1"/>
<line x1="1050.53" y1="1178.4" x2="1050.53" y2="1183.4" stroke="#000" stroke-width="1.1"/>
<line x1="1091.53" y1="1178.4" x2="1091.53" y2="1183.4" stroke="#000" stroke-width="1.1"/>
<line x1="1132.53" y1="1178.4" x2="1132.53" y2="1183.4" stroke="#000" stroke-width="1.1"/>
<line x1="1173.54" y1="1178.4" x2="1173.54" y2="1183.4" stroke="#000" stroke-width="1.1"/>
<line x1="1214.55" y1="1178.4" x2="1214.55" y2="1183.4" stroke="#000" stroke-width="1.1"/>
<line x1="1255.55" y1="1178.4" x2="1255.55" y2="1183.4" stroke="#000" stroke-width="1.1"/>
<line x1="1296.55" y1="1178.4" x2="1296.55" y2="1183.4" stroke="#000" stroke-width="1.1"/>
<line x1="1337.56" y1="1178.4" x2="1337.56" y2="1183.4" stroke="#000" stroke-width="1.1"/>
<line x1="1378.57" y1="1178.4" x2="1378.57" y2="1183.4" stroke="#000" stroke-width="1.1"/>
<line x1="1419.57" y1="1178.4" x2="1419.57" y2="1183.4" stroke="#000" stroke-width="1.1"/>
<line x1="1460.57" y1="1178.4" x2="1460.57" y2="1183.4" stroke="#000" stroke-width="1.1"/>
<line x1="1501.58" y1="1178.4" x2="1501.58" y2="1183.4" stroke="#000" stroke-width="1.1"/>
<line x1="1542.59" y1="1178.4" x2="1542.59" y2="1183.4" stroke="#000" stroke-width="1.1"/>
<line x1="1583.59" y1="1178.4" x2="1583.59" y2="1183.4" stroke="#000" stroke-width="1.1"/>
<line x1="1624.59" y1="1178.4" x2="1624.59" y2="1183.4" stroke="#000" stroke-width="1.1"/>
<line x1="1665.60" y1="1178.4" x2="1665.60" y2="1183.4" stroke="#000" stroke-width="1.1"/>
<text x="14.40" y="1200" font-weight="bold" font-size="16.2" fill="#000" textLength="22.0" lengthAdjust="spacingAndGlyphs">0h</text>
<text x="172.92" y="1200" font-weight="bold" font-size="16.2" fill="#000" textLength="33.0" lengthAdjust="spacingAndGlyphs">12h</text>
<text x="336.94" y="1200" font-weight="bold" font-size="16.2" fill="#000" textLength="33.0" lengthAdjust="spacingAndGlyphs">24h</text>
<text x="500.96" y="1200" font-weight="bold" font-size="16.2" fill="#000" textLength="33.0" lengthAdjust="spacingAndGlyphs">36h</text>
<text x="664.98" y="1200" font-weight="bold" font-size="16.2" fill="#000" textLength="33.0" lengthAdjust="spacingAndGlyphs">48h</text>
<text x="829.00" y="1200" font-weight="bold" font-size="16.2" fill="#000" textLength="33.0" lengthAdjust="spacingAndGlyphs">60h</text>
<text x="993.02" y="1200" font-weight="bold" font-size="16.2" fill="#000" textLength="33.0" lengthAdjust="spacingAndGlyphs">72h</text>
<text x="1157.04" y="1200" font-weight="bold" font-size="16.2" fill="#000" textLength="33.0" lengthAdjust="spacingAndGlyphs">84h</text>
<text x="1321.06" y="1200" font-weight="bold" font-size="16.2" fill="#000" textLength="33.0" lengthAdjust="spacingAndGlyphs">96h</text>
<text x="1479.28" y="1200" font-weight="bold" font-size="16.2" fill="#000" textLength="44.6" lengthAdjust="spacingAndGlyphs">108h</text>
<text x="1643.30" y="1200" font-weight="bold" font-size="16.2" fill="#000" textLength="44.6" lengthAdjust="spacingAndGlyphs">120h</text>
<line x1="20.4" y1="1157.8" x2="25.4" y2="1157.8" stroke="#000" stroke-width="1.1"/>
<text x="864.6" y="1121" font-weight="bold" font-size="16.6" fill="#000" text-anchor="middle" textLength="630.5" lengthAdjust="spacingAndGlyphs">Percentage of flying ballons within a TC as a function of flight time</text>
</svg></body></html>
